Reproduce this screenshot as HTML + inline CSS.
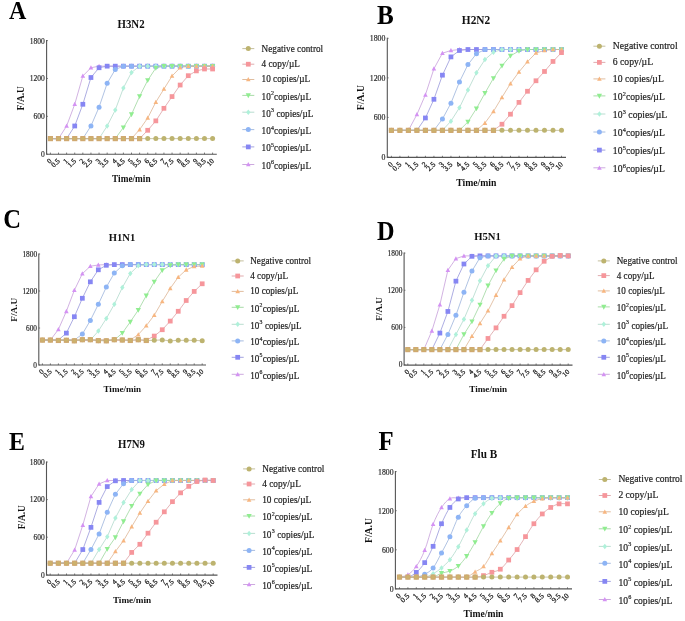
<!DOCTYPE html>
<html><head><meta charset="utf-8"><style>
html,body{margin:0;padding:0;background:#fff;}
svg{display:block;will-change:transform;}
text{font-family:"Liberation Serif",serif;fill:#222;}
.let{font-weight:bold;fill:#000;}
.ttl{font-weight:bold;fill:#111;}
.yt{fill:#2a2a2a;stroke:#2a2a2a;stroke-width:0.18px;}
.xt{fill:#222;stroke:#222;stroke-width:0.25px;}
.yl{font-weight:bold;fill:#111;}
.xl{font-weight:bold;fill:#111;}
.lg{fill:#222;stroke:#222;stroke-width:0.18px;}
.sup{font-size:64%;}
.axis{fill:none;stroke:#555;stroke-width:1.1;}
.tick{fill:none;stroke:#555;stroke-width:0.8;}
</style></head>
<body><svg width="685" height="621" viewBox="0 0 685 621">
<rect width="685" height="621" fill="#fff"/>
<text transform="translate(9.00,19.00) scale(1,1.09)" class="let" style="font-size:24.00px">A</text>
<text transform="translate(131.00,27.80) scale(1,1.07)" class="ttl" style="font-size:10.85px" text-anchor="middle">H3N2</text>
<path d="M46.6,40.1V154.2H216.8" class="axis"/>
<path d="M46.6,154.20h1.3" class="tick"/>
<text transform="translate(44.80,157.10)" class="yt" style="font-size:7.50px" text-anchor="end">0</text>
<path d="M46.6,116.33h1.3" class="tick"/>
<text transform="translate(44.80,119.23)" class="yt" style="font-size:7.50px" text-anchor="end">600</text>
<path d="M46.6,78.47h1.3" class="tick"/>
<text transform="translate(44.80,81.37)" class="yt" style="font-size:7.50px" text-anchor="end">1200</text>
<path d="M46.6,40.60h1.3" class="tick"/>
<text transform="translate(44.80,43.50)" class="yt" style="font-size:7.50px" text-anchor="end">1800</text>
<path d="M50.40,154.2v-1.6" class="tick"/>
<text transform="translate(52.30,161.40) rotate(-45)" class="xt" style="font-size:7.20px" text-anchor="end">0</text>
<path d="M58.51,154.2v-1.6" class="tick"/>
<text transform="translate(60.41,161.40) rotate(-45)" class="xt" style="font-size:7.20px" text-anchor="end">0.5</text>
<path d="M66.62,154.2v-1.6" class="tick"/>
<text transform="translate(68.52,161.40) rotate(-45)" class="xt" style="font-size:7.20px" text-anchor="end">1</text>
<path d="M74.73,154.2v-1.6" class="tick"/>
<text transform="translate(76.63,161.40) rotate(-45)" class="xt" style="font-size:7.20px" text-anchor="end">1.5</text>
<path d="M82.84,154.2v-1.6" class="tick"/>
<text transform="translate(84.74,161.40) rotate(-45)" class="xt" style="font-size:7.20px" text-anchor="end">2</text>
<path d="M90.95,154.2v-1.6" class="tick"/>
<text transform="translate(92.85,161.40) rotate(-45)" class="xt" style="font-size:7.20px" text-anchor="end">2.5</text>
<path d="M99.06,154.2v-1.6" class="tick"/>
<text transform="translate(100.96,161.40) rotate(-45)" class="xt" style="font-size:7.20px" text-anchor="end">3</text>
<path d="M107.17,154.2v-1.6" class="tick"/>
<text transform="translate(109.07,161.40) rotate(-45)" class="xt" style="font-size:7.20px" text-anchor="end">3.5</text>
<path d="M115.28,154.2v-1.6" class="tick"/>
<text transform="translate(117.18,161.40) rotate(-45)" class="xt" style="font-size:7.20px" text-anchor="end">4</text>
<path d="M123.39,154.2v-1.6" class="tick"/>
<text transform="translate(125.29,161.40) rotate(-45)" class="xt" style="font-size:7.20px" text-anchor="end">4.5</text>
<path d="M131.50,154.2v-1.6" class="tick"/>
<text transform="translate(133.40,161.40) rotate(-45)" class="xt" style="font-size:7.20px" text-anchor="end">5</text>
<path d="M139.61,154.2v-1.6" class="tick"/>
<text transform="translate(141.51,161.40) rotate(-45)" class="xt" style="font-size:7.20px" text-anchor="end">5.5</text>
<path d="M147.72,154.2v-1.6" class="tick"/>
<text transform="translate(149.62,161.40) rotate(-45)" class="xt" style="font-size:7.20px" text-anchor="end">6</text>
<path d="M155.83,154.2v-1.6" class="tick"/>
<text transform="translate(157.73,161.40) rotate(-45)" class="xt" style="font-size:7.20px" text-anchor="end">6.5</text>
<path d="M163.94,154.2v-1.6" class="tick"/>
<text transform="translate(165.84,161.40) rotate(-45)" class="xt" style="font-size:7.20px" text-anchor="end">7</text>
<path d="M172.05,154.2v-1.6" class="tick"/>
<text transform="translate(173.95,161.40) rotate(-45)" class="xt" style="font-size:7.20px" text-anchor="end">7.5</text>
<path d="M180.16,154.2v-1.6" class="tick"/>
<text transform="translate(182.06,161.40) rotate(-45)" class="xt" style="font-size:7.20px" text-anchor="end">8</text>
<path d="M188.27,154.2v-1.6" class="tick"/>
<text transform="translate(190.17,161.40) rotate(-45)" class="xt" style="font-size:7.20px" text-anchor="end">8.5</text>
<path d="M196.38,154.2v-1.6" class="tick"/>
<text transform="translate(198.28,161.40) rotate(-45)" class="xt" style="font-size:7.20px" text-anchor="end">9</text>
<path d="M204.49,154.2v-1.6" class="tick"/>
<text transform="translate(206.39,161.40) rotate(-45)" class="xt" style="font-size:7.20px" text-anchor="end">9.5</text>
<path d="M212.60,154.2v-1.6" class="tick"/>
<text transform="translate(214.50,161.40) rotate(-45)" class="xt" style="font-size:7.20px" text-anchor="end">10</text>
<text transform="translate(23.80,98.30) rotate(-90)" class="yl" style="font-size:9.40px" text-anchor="middle">F/A.U</text>
<text transform="translate(131.30,181.70)" class="xl" style="font-size:9.30px" text-anchor="middle">Time/min</text>
<path d="M50.40,138.61L58.51,138.61L66.62,125.99L74.73,104.28L82.84,76.01L90.95,67.74L99.06,66.16L107.17,66.16L115.28,66.16L123.39,66.16L131.50,66.16L139.61,66.16L147.72,66.16L155.83,66.16L163.94,66.16L172.05,66.16L180.16,66.16L188.27,66.16L196.38,66.16L204.49,66.16L212.60,66.16" fill="none" stroke="#c79fdb" stroke-width="0.8"/>
<path d="M50.40,138.61L58.51,138.61L66.62,138.61L74.73,125.99L82.84,104.28L90.95,77.52L99.06,67.74L107.17,66.16L115.28,66.16L123.39,66.16L131.50,66.16L139.61,66.16L147.72,66.16L155.83,66.16L163.94,66.16L172.05,66.16L180.16,66.16L188.27,66.16L196.38,66.16L204.49,66.16L212.60,66.16" fill="none" stroke="#9898db" stroke-width="0.8"/>
<path d="M50.40,138.61L58.51,138.61L66.62,138.61L74.73,138.61L82.84,138.61L90.95,125.99L99.06,107.18L107.17,83.33L115.28,69.50L123.39,66.16L131.50,66.16L139.61,66.16L147.72,66.16L155.83,66.16L163.94,66.16L172.05,66.16L180.16,66.16L188.27,66.16L196.38,66.16L204.49,66.16L212.60,66.16" fill="none" stroke="#9cb4dc" stroke-width="0.8"/>
<path d="M50.40,138.61L58.51,138.61L66.62,138.61L74.73,138.61L82.84,138.61L90.95,138.61L99.06,138.61L107.17,125.99L115.28,110.09L123.39,88.00L131.50,72.41L139.61,66.16L147.72,66.16L155.83,66.16L163.94,66.16L172.05,66.16L180.16,66.16L188.27,66.16L196.38,66.16L204.49,66.16L212.60,66.16" fill="none" stroke="#b1d9cb" stroke-width="0.8"/>
<path d="M50.40,138.61L58.51,138.61L66.62,138.61L74.73,138.61L82.84,138.61L90.95,138.61L99.06,138.61L107.17,138.61L115.28,138.61L123.39,127.50L131.50,114.38L139.61,96.33L147.72,80.30L155.83,67.99L163.94,66.16L172.05,66.16L180.16,66.16L188.27,66.16L196.38,66.16L204.49,66.16L212.60,66.16" fill="none" stroke="#9ed79e" stroke-width="0.8"/>
<path d="M50.40,138.61L58.51,138.61L66.62,138.61L74.73,138.61L82.84,138.61L90.95,138.61L99.06,138.61L107.17,138.61L115.28,138.61L123.39,138.61L131.50,138.61L139.61,129.59L147.72,117.97L155.83,102.07L163.94,89.01L172.05,76.01L180.16,67.67L188.27,66.16L196.38,66.16L204.49,66.16L212.60,66.16" fill="none" stroke="#ddb594" stroke-width="0.8"/>
<path d="M50.40,138.61L58.51,138.61L66.62,138.61L74.73,138.61L82.84,138.61L90.95,138.61L99.06,138.61L107.17,138.61L115.28,138.61L123.39,138.61L131.50,138.61L139.61,138.61L147.72,130.28L155.83,120.88L163.94,108.32L172.05,96.58L180.16,85.03L188.27,75.69L196.38,70.89L204.49,69.00L212.60,69.00" fill="none" stroke="#dca1a5" stroke-width="0.8"/>
<path d="M50.40,138.61L58.51,138.61L66.62,138.61L74.73,138.61L82.84,138.61L90.95,138.61L99.06,138.61L107.17,138.61L115.28,138.61L123.39,138.61L131.50,138.61L139.61,138.61L147.72,138.61L155.83,138.61L163.94,138.61L172.05,138.61L180.16,138.61L188.27,138.61L196.38,138.61L204.49,138.61L212.60,138.61" fill="none" stroke="#bdb893" stroke-width="0.8"/>
<path d="M66.62,123.57L68.92,127.83L64.32,127.83Z" fill="#d492f3"/>
<path d="M74.73,101.86L77.03,106.12L72.43,106.12Z" fill="#d492f3"/>
<path d="M82.84,73.59L85.14,77.85L80.54,77.85Z" fill="#d492f3"/>
<path d="M90.95,65.32L93.25,69.58L88.65,69.58Z" fill="#d492f3"/>
<path d="M99.06,63.74L101.36,68.00L96.76,68.00Z" fill="#d492f3"/>
<path d="M107.17,63.74L109.47,68.00L104.87,68.00Z" fill="#d492f3"/>
<path d="M115.28,63.74L117.58,68.00L112.98,68.00Z" fill="#d492f3"/>
<path d="M123.39,63.74L125.69,68.00L121.09,68.00Z" fill="#d492f3"/>
<path d="M131.50,63.74L133.80,68.00L129.20,68.00Z" fill="#d492f3"/>
<path d="M139.61,63.74L141.91,68.00L137.31,68.00Z" fill="#d492f3"/>
<path d="M147.72,63.74L150.02,68.00L145.42,68.00Z" fill="#d492f3"/>
<path d="M155.83,63.74L158.13,68.00L153.53,68.00Z" fill="#d492f3"/>
<path d="M163.94,63.74L166.24,68.00L161.64,68.00Z" fill="#d492f3"/>
<path d="M172.05,63.74L174.35,68.00L169.75,68.00Z" fill="#d492f3"/>
<path d="M180.16,63.74L182.46,68.00L177.86,68.00Z" fill="#d492f3"/>
<path d="M188.27,63.74L190.57,68.00L185.97,68.00Z" fill="#d492f3"/>
<path d="M196.38,63.74L198.68,68.00L194.08,68.00Z" fill="#d492f3"/>
<path d="M204.49,63.74L206.79,68.00L202.19,68.00Z" fill="#d492f3"/>
<path d="M212.60,63.74L214.90,68.00L210.30,68.00Z" fill="#d492f3"/>
<rect x="72.35" y="123.61" width="4.75" height="4.75" fill="#8686f3"/>
<rect x="80.47" y="101.90" width="4.75" height="4.75" fill="#8686f3"/>
<rect x="88.57" y="75.14" width="4.75" height="4.75" fill="#8686f3"/>
<rect x="96.69" y="65.36" width="4.75" height="4.75" fill="#8686f3"/>
<rect x="104.79" y="63.78" width="4.75" height="4.75" fill="#8686f3"/>
<rect x="112.91" y="63.78" width="4.75" height="4.75" fill="#8686f3"/>
<rect x="121.01" y="63.78" width="4.75" height="4.75" fill="#8686f3"/>
<rect x="129.12" y="63.78" width="4.75" height="4.75" fill="#8686f3"/>
<rect x="137.23" y="63.78" width="4.75" height="4.75" fill="#8686f3"/>
<rect x="145.34" y="63.78" width="4.75" height="4.75" fill="#8686f3"/>
<rect x="153.45" y="63.78" width="4.75" height="4.75" fill="#8686f3"/>
<rect x="161.56" y="63.78" width="4.75" height="4.75" fill="#8686f3"/>
<rect x="169.67" y="63.78" width="4.75" height="4.75" fill="#8686f3"/>
<rect x="177.78" y="63.78" width="4.75" height="4.75" fill="#8686f3"/>
<rect x="185.90" y="63.78" width="4.75" height="4.75" fill="#8686f3"/>
<rect x="194.00" y="63.78" width="4.75" height="4.75" fill="#8686f3"/>
<rect x="202.11" y="63.78" width="4.75" height="4.75" fill="#8686f3"/>
<rect x="210.22" y="63.78" width="4.75" height="4.75" fill="#8686f3"/>
<circle cx="90.95" cy="125.99" r="2.50" fill="#8db4f5"/>
<circle cx="99.06" cy="107.18" r="2.50" fill="#8db4f5"/>
<circle cx="107.17" cy="83.33" r="2.50" fill="#8db4f5"/>
<circle cx="115.28" cy="69.50" r="2.50" fill="#8db4f5"/>
<circle cx="123.39" cy="66.16" r="2.50" fill="#8db4f5"/>
<circle cx="131.50" cy="66.16" r="2.50" fill="#8db4f5"/>
<circle cx="139.61" cy="66.16" r="2.50" fill="#8db4f5"/>
<circle cx="147.72" cy="66.16" r="2.50" fill="#8db4f5"/>
<circle cx="155.83" cy="66.16" r="2.50" fill="#8db4f5"/>
<circle cx="163.94" cy="66.16" r="2.50" fill="#8db4f5"/>
<circle cx="172.05" cy="66.16" r="2.50" fill="#8db4f5"/>
<circle cx="180.16" cy="66.16" r="2.50" fill="#8db4f5"/>
<circle cx="188.27" cy="66.16" r="2.50" fill="#8db4f5"/>
<circle cx="196.38" cy="66.16" r="2.50" fill="#8db4f5"/>
<circle cx="204.49" cy="66.16" r="2.50" fill="#8db4f5"/>
<circle cx="212.60" cy="66.16" r="2.50" fill="#8db4f5"/>
<path d="M107.17,123.24L109.37,125.99L107.17,128.74L104.97,125.99Z" fill="#aff1da"/>
<path d="M115.28,107.34L117.48,110.09L115.28,112.84L113.08,110.09Z" fill="#aff1da"/>
<path d="M123.39,85.25L125.59,88.00L123.39,90.75L121.19,88.00Z" fill="#aff1da"/>
<path d="M131.50,69.66L133.70,72.41L131.50,75.16L129.30,72.41Z" fill="#aff1da"/>
<path d="M139.61,63.41L141.81,66.16L139.61,68.91L137.41,66.16Z" fill="#aff1da"/>
<path d="M147.72,63.41L149.92,66.16L147.72,68.91L145.52,66.16Z" fill="#aff1da"/>
<path d="M155.83,63.41L158.03,66.16L155.83,68.91L153.63,66.16Z" fill="#aff1da"/>
<path d="M163.94,63.41L166.14,66.16L163.94,68.91L161.74,66.16Z" fill="#aff1da"/>
<path d="M172.05,63.41L174.25,66.16L172.05,68.91L169.85,66.16Z" fill="#aff1da"/>
<path d="M180.16,63.41L182.36,66.16L180.16,68.91L177.96,66.16Z" fill="#aff1da"/>
<path d="M188.27,63.41L190.47,66.16L188.27,68.91L186.07,66.16Z" fill="#aff1da"/>
<path d="M196.38,63.41L198.58,66.16L196.38,68.91L194.18,66.16Z" fill="#aff1da"/>
<path d="M204.49,63.41L206.69,66.16L204.49,68.91L202.29,66.16Z" fill="#aff1da"/>
<path d="M212.60,63.41L214.80,66.16L212.60,68.91L210.40,66.16Z" fill="#aff1da"/>
<path d="M123.39,130.26L126.01,125.40L120.76,125.40Z" fill="#90ed90"/>
<path d="M131.50,117.13L134.12,112.28L128.88,112.28Z" fill="#90ed90"/>
<path d="M139.61,99.08L142.23,94.23L136.98,94.23Z" fill="#90ed90"/>
<path d="M147.72,83.05L150.34,78.20L145.09,78.20Z" fill="#90ed90"/>
<path d="M155.83,70.75L158.45,65.89L153.20,65.89Z" fill="#90ed90"/>
<path d="M163.94,68.92L166.56,64.06L161.31,64.06Z" fill="#90ed90"/>
<path d="M172.05,68.92L174.67,64.06L169.42,64.06Z" fill="#90ed90"/>
<path d="M180.16,68.92L182.78,64.06L177.53,64.06Z" fill="#90ed90"/>
<path d="M188.27,68.92L190.90,64.06L185.65,64.06Z" fill="#90ed90"/>
<path d="M196.38,68.92L199.00,64.06L193.75,64.06Z" fill="#90ed90"/>
<path d="M204.49,68.92L207.11,64.06L201.86,64.06Z" fill="#90ed90"/>
<path d="M212.60,68.92L215.22,64.06L209.97,64.06Z" fill="#90ed90"/>
<path d="M139.61,127.17L141.91,131.43L137.31,131.43Z" fill="#f7b680"/>
<path d="M147.72,115.56L150.02,119.81L145.42,119.81Z" fill="#f7b680"/>
<path d="M155.83,99.66L158.13,103.91L153.53,103.91Z" fill="#f7b680"/>
<path d="M163.94,86.59L166.24,90.85L161.64,90.85Z" fill="#f7b680"/>
<path d="M172.05,73.59L174.35,77.85L169.75,77.85Z" fill="#f7b680"/>
<path d="M180.16,65.26L182.46,69.51L177.86,69.51Z" fill="#f7b680"/>
<path d="M188.27,63.74L190.57,68.00L185.97,68.00Z" fill="#f7b680"/>
<path d="M196.38,63.74L198.68,68.00L194.08,68.00Z" fill="#f7b680"/>
<path d="M204.49,63.74L206.79,68.00L202.19,68.00Z" fill="#f7b680"/>
<path d="M212.60,63.74L214.90,68.00L210.30,68.00Z" fill="#f7b680"/>
<rect x="145.34" y="127.91" width="4.75" height="4.75" fill="#f6969b"/>
<rect x="153.45" y="118.50" width="4.75" height="4.75" fill="#f6969b"/>
<rect x="161.56" y="105.94" width="4.75" height="4.75" fill="#f6969b"/>
<rect x="169.67" y="94.20" width="4.75" height="4.75" fill="#f6969b"/>
<rect x="177.78" y="82.66" width="4.75" height="4.75" fill="#f6969b"/>
<rect x="185.90" y="73.31" width="4.75" height="4.75" fill="#f6969b"/>
<rect x="194.00" y="68.52" width="4.75" height="4.75" fill="#f6969b"/>
<rect x="202.11" y="66.62" width="4.75" height="4.75" fill="#f6969b"/>
<rect x="210.22" y="66.62" width="4.75" height="4.75" fill="#f6969b"/>
<circle cx="50.40" cy="138.61" r="2.50" fill="#bdb36f"/>
<circle cx="58.51" cy="138.61" r="2.50" fill="#bdb36f"/>
<circle cx="66.62" cy="138.61" r="2.50" fill="#bdb36f"/>
<circle cx="74.73" cy="138.61" r="2.50" fill="#bdb36f"/>
<circle cx="82.84" cy="138.61" r="2.50" fill="#bdb36f"/>
<circle cx="90.95" cy="138.61" r="2.50" fill="#bdb36f"/>
<circle cx="99.06" cy="138.61" r="2.50" fill="#bdb36f"/>
<circle cx="107.17" cy="138.61" r="2.50" fill="#bdb36f"/>
<circle cx="115.28" cy="138.61" r="2.50" fill="#bdb36f"/>
<circle cx="123.39" cy="138.61" r="2.50" fill="#bdb36f"/>
<circle cx="131.50" cy="138.61" r="2.50" fill="#bdb36f"/>
<circle cx="139.61" cy="138.61" r="2.50" fill="#bdb36f"/>
<circle cx="147.72" cy="138.61" r="2.50" fill="#bdb36f"/>
<circle cx="155.83" cy="138.61" r="2.50" fill="#bdb36f"/>
<circle cx="163.94" cy="138.61" r="2.50" fill="#bdb36f"/>
<circle cx="172.05" cy="138.61" r="2.50" fill="#bdb36f"/>
<circle cx="180.16" cy="138.61" r="2.50" fill="#bdb36f"/>
<circle cx="188.27" cy="138.61" r="2.50" fill="#bdb36f"/>
<circle cx="196.38" cy="138.61" r="2.50" fill="#bdb36f"/>
<circle cx="204.49" cy="138.61" r="2.50" fill="#bdb36f"/>
<circle cx="212.60" cy="138.61" r="2.50" fill="#bdb36f"/>
<rect x="47.80" y="136.01" width="5.2" height="5.2" fill="#d0a870"/>
<circle cx="50.40" cy="138.61" r="1.7" fill="#cbb36c"/>
<rect x="55.91" y="136.01" width="5.2" height="5.2" fill="#d0a870"/>
<circle cx="58.51" cy="138.61" r="1.7" fill="#cbb36c"/>
<rect x="64.02" y="136.01" width="5.2" height="5.2" fill="#d0a870"/>
<circle cx="66.62" cy="138.61" r="1.7" fill="#cbb36c"/>
<rect x="72.13" y="136.01" width="5.2" height="5.2" fill="#d0a870"/>
<circle cx="74.73" cy="138.61" r="1.7" fill="#cbb36c"/>
<rect x="80.24" y="136.01" width="5.2" height="5.2" fill="#d0a870"/>
<circle cx="82.84" cy="138.61" r="1.7" fill="#cbb36c"/>
<rect x="88.35" y="136.01" width="5.2" height="5.2" fill="#d0a870"/>
<circle cx="90.95" cy="138.61" r="1.7" fill="#cbb36c"/>
<rect x="96.46" y="136.01" width="5.2" height="5.2" fill="#d0a870"/>
<circle cx="99.06" cy="138.61" r="1.7" fill="#cbb36c"/>
<rect x="104.57" y="136.01" width="5.2" height="5.2" fill="#d0a870"/>
<circle cx="107.17" cy="138.61" r="1.7" fill="#cbb36c"/>
<rect x="112.68" y="136.01" width="5.2" height="5.2" fill="#d0a870"/>
<circle cx="115.28" cy="138.61" r="1.7" fill="#cbb36c"/>
<rect x="120.79" y="136.01" width="5.2" height="5.2" fill="#d0a870"/>
<circle cx="123.39" cy="138.61" r="1.7" fill="#cbb36c"/>
<rect x="128.90" y="136.01" width="5.2" height="5.2" fill="#d0a870"/>
<circle cx="131.50" cy="138.61" r="1.7" fill="#cbb36c"/>
<rect x="137.01" y="136.01" width="5.2" height="5.2" fill="#d0a870"/>
<circle cx="139.61" cy="138.61" r="1.7" fill="#cbb36c"/>
<path d="M242.30,48.60h12" stroke="#bdb893" stroke-width="0.9"/>
<circle cx="248.30" cy="48.60" r="2.50" fill="#bdb36f"/>
<text transform="translate(261.60,51.50) scale(1,1.15)" class="lg" style="font-size:9.20px">Negative control</text>
<path d="M242.30,64.20h12" stroke="#dca1a5" stroke-width="0.9"/>
<rect x="245.93" y="61.83" width="4.75" height="4.75" fill="#f6969b"/>
<text transform="translate(261.60,67.10) scale(1,1.15)" class="lg" style="font-size:9.20px">4 copy/µL</text>
<path d="M242.30,79.50h12" stroke="#ddb594" stroke-width="0.9"/>
<path d="M248.30,77.08L250.60,81.34L246.00,81.34Z" fill="#f7b680"/>
<text transform="translate(261.60,82.40) scale(1,1.15)" class="lg" style="font-size:9.20px">10 copies/µL</text>
<path d="M242.30,95.40h12" stroke="#9ed79e" stroke-width="0.9"/>
<path d="M248.30,98.16L250.93,93.30L245.68,93.30Z" fill="#90ed90"/>
<text transform="translate(261.60,99.70) scale(1,1.15)" class="lg" style="font-size:9.20px">10<tspan class="sup" dy="-3.8" dx="0.15">2</tspan><tspan dy="3.8" dx="0.2">copies/µL</tspan></text>
<path d="M242.30,112.20h12" stroke="#b1d9cb" stroke-width="0.9"/>
<path d="M248.30,109.45L250.50,112.20L248.30,114.95L246.10,112.20Z" fill="#aff1da"/>
<text transform="translate(261.60,116.50) scale(1,1.15)" class="lg" style="font-size:9.20px">10<tspan class="sup" dy="-3.8" dx="0.15">3</tspan><tspan dy="3.8" dx="0.2"> copies/µL</tspan></text>
<path d="M242.30,129.60h12" stroke="#9cb4dc" stroke-width="0.9"/>
<circle cx="248.30" cy="129.60" r="2.50" fill="#8db4f5"/>
<text transform="translate(261.60,133.90) scale(1,1.15)" class="lg" style="font-size:9.20px">10<tspan class="sup" dy="-3.8" dx="0.15">4</tspan><tspan dy="3.8" dx="0.2">copies/µL</tspan></text>
<path d="M242.30,146.90h12" stroke="#9898db" stroke-width="0.9"/>
<rect x="245.93" y="144.53" width="4.75" height="4.75" fill="#8686f3"/>
<text transform="translate(261.60,151.20) scale(1,1.15)" class="lg" style="font-size:9.20px">10<tspan class="sup" dy="-3.8" dx="0.15">5</tspan><tspan dy="3.8" dx="0.2">copies/µL</tspan></text>
<path d="M242.30,164.50h12" stroke="#c79fdb" stroke-width="0.9"/>
<path d="M248.30,162.09L250.60,166.34L246.00,166.34Z" fill="#d492f3"/>
<text transform="translate(261.60,168.80) scale(1,1.15)" class="lg" style="font-size:9.20px">10<tspan class="sup" dy="-3.8" dx="0.15">6</tspan><tspan dy="3.8" dx="0.2">copies/µL</tspan></text>
<text transform="translate(377.00,24.00) scale(1,1.09)" class="let" style="font-size:25.08px">B</text>
<text transform="translate(476.00,24.20) scale(1,1.07)" class="ttl" style="font-size:11.34px" text-anchor="middle">H2N2</text>
<path d="M387.3,37.8V157.4H566" class="axis"/>
<path d="M387.3,157.00h1.3" class="tick"/>
<text transform="translate(385.42,160.03)" class="yt" style="font-size:7.84px" text-anchor="end">0</text>
<path d="M387.3,117.43h1.3" class="tick"/>
<text transform="translate(385.42,120.46)" class="yt" style="font-size:7.84px" text-anchor="end">600</text>
<path d="M387.3,77.87h1.3" class="tick"/>
<text transform="translate(385.42,80.90)" class="yt" style="font-size:7.84px" text-anchor="end">1200</text>
<path d="M387.3,38.30h1.3" class="tick"/>
<text transform="translate(385.42,41.33)" class="yt" style="font-size:7.84px" text-anchor="end">1800</text>
<path d="M391.40,157.4v-1.6" class="tick"/>
<text transform="translate(393.39,164.92) rotate(-45)" class="xt" style="font-size:7.52px" text-anchor="end">0</text>
<path d="M399.90,157.4v-1.6" class="tick"/>
<text transform="translate(401.89,164.92) rotate(-45)" class="xt" style="font-size:7.52px" text-anchor="end">0.5</text>
<path d="M408.41,157.4v-1.6" class="tick"/>
<text transform="translate(410.40,164.92) rotate(-45)" class="xt" style="font-size:7.52px" text-anchor="end">1</text>
<path d="M416.91,157.4v-1.6" class="tick"/>
<text transform="translate(418.90,164.92) rotate(-45)" class="xt" style="font-size:7.52px" text-anchor="end">1.5</text>
<path d="M425.42,157.4v-1.6" class="tick"/>
<text transform="translate(427.41,164.92) rotate(-45)" class="xt" style="font-size:7.52px" text-anchor="end">2</text>
<path d="M433.92,157.4v-1.6" class="tick"/>
<text transform="translate(435.91,164.92) rotate(-45)" class="xt" style="font-size:7.52px" text-anchor="end">2.5</text>
<path d="M442.43,157.4v-1.6" class="tick"/>
<text transform="translate(444.42,164.92) rotate(-45)" class="xt" style="font-size:7.52px" text-anchor="end">3</text>
<path d="M450.94,157.4v-1.6" class="tick"/>
<text transform="translate(452.92,164.92) rotate(-45)" class="xt" style="font-size:7.52px" text-anchor="end">3.5</text>
<path d="M459.44,157.4v-1.6" class="tick"/>
<text transform="translate(461.43,164.92) rotate(-45)" class="xt" style="font-size:7.52px" text-anchor="end">4</text>
<path d="M467.94,157.4v-1.6" class="tick"/>
<text transform="translate(469.93,164.92) rotate(-45)" class="xt" style="font-size:7.52px" text-anchor="end">4.5</text>
<path d="M476.45,157.4v-1.6" class="tick"/>
<text transform="translate(478.44,164.92) rotate(-45)" class="xt" style="font-size:7.52px" text-anchor="end">5</text>
<path d="M484.95,157.4v-1.6" class="tick"/>
<text transform="translate(486.94,164.92) rotate(-45)" class="xt" style="font-size:7.52px" text-anchor="end">5.5</text>
<path d="M493.46,157.4v-1.6" class="tick"/>
<text transform="translate(495.45,164.92) rotate(-45)" class="xt" style="font-size:7.52px" text-anchor="end">6</text>
<path d="M501.96,157.4v-1.6" class="tick"/>
<text transform="translate(503.95,164.92) rotate(-45)" class="xt" style="font-size:7.52px" text-anchor="end">6.5</text>
<path d="M510.47,157.4v-1.6" class="tick"/>
<text transform="translate(512.46,164.92) rotate(-45)" class="xt" style="font-size:7.52px" text-anchor="end">7</text>
<path d="M518.98,157.4v-1.6" class="tick"/>
<text transform="translate(520.96,164.92) rotate(-45)" class="xt" style="font-size:7.52px" text-anchor="end">7.5</text>
<path d="M527.48,157.4v-1.6" class="tick"/>
<text transform="translate(529.47,164.92) rotate(-45)" class="xt" style="font-size:7.52px" text-anchor="end">8</text>
<path d="M535.99,157.4v-1.6" class="tick"/>
<text transform="translate(537.97,164.92) rotate(-45)" class="xt" style="font-size:7.52px" text-anchor="end">8.5</text>
<path d="M544.49,157.4v-1.6" class="tick"/>
<text transform="translate(546.48,164.92) rotate(-45)" class="xt" style="font-size:7.52px" text-anchor="end">9</text>
<path d="M553.00,157.4v-1.6" class="tick"/>
<text transform="translate(554.98,164.92) rotate(-45)" class="xt" style="font-size:7.52px" text-anchor="end">9.5</text>
<path d="M561.50,157.4v-1.6" class="tick"/>
<text transform="translate(563.49,164.92) rotate(-45)" class="xt" style="font-size:7.52px" text-anchor="end">10</text>
<text transform="translate(364.10,97.60) rotate(-90)" class="yl" style="font-size:9.82px" text-anchor="middle">F/A.U</text>
<text transform="translate(476.30,185.80)" class="xl" style="font-size:9.72px" text-anchor="middle">Time/min</text>
<path d="M391.40,130.36L399.90,130.36L408.41,130.36L416.91,114.53L425.42,94.81L433.92,68.77L442.43,53.20L450.94,50.50L459.44,49.51L467.94,49.51L476.45,49.51L484.95,49.51L493.46,49.51L501.96,49.51L510.47,49.51L518.98,49.51L527.48,49.51L535.99,49.51L544.49,49.51L553.00,49.51L561.50,49.51" fill="none" stroke="#c79fdb" stroke-width="0.8"/>
<path d="M391.40,130.36L399.90,130.36L408.41,130.36L416.91,130.36L425.42,117.96L433.92,99.30L442.43,75.16L450.94,56.90L459.44,50.50L467.94,49.51L476.45,49.51L484.95,49.51L493.46,49.51L501.96,49.51L510.47,49.51L518.98,49.51L527.48,49.51L535.99,49.51L544.49,49.51L553.00,49.51L561.50,49.51" fill="none" stroke="#9898db" stroke-width="0.8"/>
<path d="M391.40,130.36L399.90,130.36L408.41,130.36L416.91,130.36L425.42,130.36L433.92,130.36L442.43,119.02L450.94,103.19L459.44,81.96L467.94,64.61L476.45,53.73L484.95,49.51L493.46,49.51L501.96,49.51L510.47,49.51L518.98,49.51L527.48,49.51L535.99,49.51L544.49,49.51L553.00,49.51L561.50,49.51" fill="none" stroke="#9cb4dc" stroke-width="0.8"/>
<path d="M391.40,130.36L399.90,130.36L408.41,130.36L416.91,130.36L425.42,130.36L433.92,130.36L442.43,130.36L450.94,121.13L459.44,107.74L467.94,90.00L476.45,72.72L484.95,59.60L493.46,52.15L501.96,49.51L510.47,49.51L518.98,49.51L527.48,49.51L535.99,49.51L544.49,49.51L553.00,49.51L561.50,49.51" fill="none" stroke="#b1d9cb" stroke-width="0.8"/>
<path d="M391.40,130.36L399.90,130.36L408.41,130.36L416.91,130.36L425.42,130.36L433.92,130.36L442.43,130.36L450.94,130.36L459.44,130.36L467.94,121.92L476.45,108.53L484.95,93.17L493.46,78.26L501.96,65.80L510.47,55.84L518.98,51.03L527.48,49.51L535.99,49.51L544.49,49.51L553.00,49.51L561.50,49.51" fill="none" stroke="#9ed79e" stroke-width="0.8"/>
<path d="M391.40,130.36L399.90,130.36L408.41,130.36L416.91,130.36L425.42,130.36L433.92,130.36L442.43,130.36L450.94,130.36L459.44,130.36L467.94,130.36L476.45,130.36L484.95,123.04L493.46,111.43L501.96,97.32L510.47,83.60L518.98,71.93L527.48,61.71L535.99,52.94L544.49,50.50L553.00,49.51L561.50,49.51" fill="none" stroke="#ddb594" stroke-width="0.8"/>
<path d="M391.40,130.36L399.90,130.36L408.41,130.36L416.91,130.36L425.42,130.36L433.92,130.36L442.43,130.36L450.94,130.36L459.44,130.36L467.94,130.36L476.45,130.36L484.95,130.36L493.46,130.36L501.96,124.23L510.47,114.20L518.98,102.40L527.48,91.25L535.99,80.77L544.49,71.47L553.00,61.45L561.50,52.61" fill="none" stroke="#dca1a5" stroke-width="0.8"/>
<path d="M391.40,130.36L399.90,130.36L408.41,130.36L416.91,130.36L425.42,130.36L433.92,130.36L442.43,130.36L450.94,130.36L459.44,130.36L467.94,130.36L476.45,130.36L484.95,130.36L493.46,130.36L501.96,130.36L510.47,130.36L518.98,130.36L527.48,130.36L535.99,130.36L544.49,130.36L553.00,130.36L561.50,130.36" fill="none" stroke="#bdb893" stroke-width="0.8"/>
<path d="M416.91,112.12L419.21,116.37L414.61,116.37Z" fill="#d492f3"/>
<path d="M425.42,92.40L427.72,96.65L423.12,96.65Z" fill="#d492f3"/>
<path d="M433.92,66.35L436.22,70.61L431.62,70.61Z" fill="#d492f3"/>
<path d="M442.43,50.79L444.73,55.04L440.13,55.04Z" fill="#d492f3"/>
<path d="M450.94,48.08L453.24,52.34L448.63,52.34Z" fill="#d492f3"/>
<path d="M459.44,47.10L461.74,51.35L457.14,51.35Z" fill="#d492f3"/>
<path d="M467.94,47.10L470.25,51.35L465.64,51.35Z" fill="#d492f3"/>
<path d="M476.45,47.10L478.75,51.35L474.15,51.35Z" fill="#d492f3"/>
<path d="M484.95,47.10L487.25,51.35L482.65,51.35Z" fill="#d492f3"/>
<path d="M493.46,47.10L495.76,51.35L491.16,51.35Z" fill="#d492f3"/>
<path d="M501.96,47.10L504.26,51.35L499.66,51.35Z" fill="#d492f3"/>
<path d="M510.47,47.10L512.77,51.35L508.17,51.35Z" fill="#d492f3"/>
<path d="M518.98,47.10L521.27,51.35L516.68,51.35Z" fill="#d492f3"/>
<path d="M527.48,47.10L529.78,51.35L525.18,51.35Z" fill="#d492f3"/>
<path d="M535.99,47.10L538.28,51.35L533.69,51.35Z" fill="#d492f3"/>
<path d="M544.49,47.10L546.79,51.35L542.19,51.35Z" fill="#d492f3"/>
<path d="M553.00,47.10L555.29,51.35L550.70,51.35Z" fill="#d492f3"/>
<path d="M561.50,47.10L563.80,51.35L559.20,51.35Z" fill="#d492f3"/>
<rect x="423.04" y="115.59" width="4.75" height="4.75" fill="#8686f3"/>
<rect x="431.55" y="96.92" width="4.75" height="4.75" fill="#8686f3"/>
<rect x="440.05" y="72.79" width="4.75" height="4.75" fill="#8686f3"/>
<rect x="448.56" y="54.52" width="4.75" height="4.75" fill="#8686f3"/>
<rect x="457.06" y="48.12" width="4.75" height="4.75" fill="#8686f3"/>
<rect x="465.57" y="47.14" width="4.75" height="4.75" fill="#8686f3"/>
<rect x="474.07" y="47.14" width="4.75" height="4.75" fill="#8686f3"/>
<rect x="482.58" y="47.14" width="4.75" height="4.75" fill="#8686f3"/>
<rect x="491.08" y="47.14" width="4.75" height="4.75" fill="#8686f3"/>
<rect x="499.59" y="47.14" width="4.75" height="4.75" fill="#8686f3"/>
<rect x="508.09" y="47.14" width="4.75" height="4.75" fill="#8686f3"/>
<rect x="516.60" y="47.14" width="4.75" height="4.75" fill="#8686f3"/>
<rect x="525.11" y="47.14" width="4.75" height="4.75" fill="#8686f3"/>
<rect x="533.61" y="47.14" width="4.75" height="4.75" fill="#8686f3"/>
<rect x="542.12" y="47.14" width="4.75" height="4.75" fill="#8686f3"/>
<rect x="550.62" y="47.14" width="4.75" height="4.75" fill="#8686f3"/>
<rect x="559.12" y="47.14" width="4.75" height="4.75" fill="#8686f3"/>
<circle cx="442.43" cy="119.02" r="2.50" fill="#8db4f5"/>
<circle cx="450.94" cy="103.19" r="2.50" fill="#8db4f5"/>
<circle cx="459.44" cy="81.96" r="2.50" fill="#8db4f5"/>
<circle cx="467.94" cy="64.61" r="2.50" fill="#8db4f5"/>
<circle cx="476.45" cy="53.73" r="2.50" fill="#8db4f5"/>
<circle cx="484.95" cy="49.51" r="2.50" fill="#8db4f5"/>
<circle cx="493.46" cy="49.51" r="2.50" fill="#8db4f5"/>
<circle cx="501.96" cy="49.51" r="2.50" fill="#8db4f5"/>
<circle cx="510.47" cy="49.51" r="2.50" fill="#8db4f5"/>
<circle cx="518.98" cy="49.51" r="2.50" fill="#8db4f5"/>
<circle cx="527.48" cy="49.51" r="2.50" fill="#8db4f5"/>
<circle cx="535.99" cy="49.51" r="2.50" fill="#8db4f5"/>
<circle cx="544.49" cy="49.51" r="2.50" fill="#8db4f5"/>
<circle cx="553.00" cy="49.51" r="2.50" fill="#8db4f5"/>
<circle cx="561.50" cy="49.51" r="2.50" fill="#8db4f5"/>
<path d="M450.94,118.38L453.13,121.13L450.94,123.88L448.74,121.13Z" fill="#aff1da"/>
<path d="M459.44,104.99L461.64,107.74L459.44,110.49L457.24,107.74Z" fill="#aff1da"/>
<path d="M467.94,87.25L470.14,90.00L467.94,92.75L465.75,90.00Z" fill="#aff1da"/>
<path d="M476.45,69.97L478.65,72.72L476.45,75.47L474.25,72.72Z" fill="#aff1da"/>
<path d="M484.95,56.85L487.15,59.60L484.95,62.35L482.75,59.60Z" fill="#aff1da"/>
<path d="M493.46,49.40L495.66,52.15L493.46,54.90L491.26,52.15Z" fill="#aff1da"/>
<path d="M501.96,46.76L504.16,49.51L501.96,52.26L499.76,49.51Z" fill="#aff1da"/>
<path d="M510.47,46.76L512.67,49.51L510.47,52.26L508.27,49.51Z" fill="#aff1da"/>
<path d="M518.98,46.76L521.18,49.51L518.98,52.26L516.77,49.51Z" fill="#aff1da"/>
<path d="M527.48,46.76L529.68,49.51L527.48,52.26L525.28,49.51Z" fill="#aff1da"/>
<path d="M535.99,46.76L538.19,49.51L535.99,52.26L533.78,49.51Z" fill="#aff1da"/>
<path d="M544.49,46.76L546.69,49.51L544.49,52.26L542.29,49.51Z" fill="#aff1da"/>
<path d="M553.00,46.76L555.20,49.51L553.00,52.26L550.79,49.51Z" fill="#aff1da"/>
<path d="M561.50,46.76L563.70,49.51L561.50,52.26L559.30,49.51Z" fill="#aff1da"/>
<path d="M467.94,124.67L470.57,119.82L465.32,119.82Z" fill="#90ed90"/>
<path d="M476.45,111.29L479.07,106.43L473.82,106.43Z" fill="#90ed90"/>
<path d="M484.95,95.92L487.58,91.07L482.33,91.07Z" fill="#90ed90"/>
<path d="M493.46,81.02L496.08,76.16L490.83,76.16Z" fill="#90ed90"/>
<path d="M501.96,68.56L504.59,63.70L499.34,63.70Z" fill="#90ed90"/>
<path d="M510.47,58.60L513.10,53.74L507.84,53.74Z" fill="#90ed90"/>
<path d="M518.98,53.78L521.60,48.93L516.35,48.93Z" fill="#90ed90"/>
<path d="M527.48,52.27L530.11,47.41L524.86,47.41Z" fill="#90ed90"/>
<path d="M535.99,52.27L538.61,47.41L533.36,47.41Z" fill="#90ed90"/>
<path d="M544.49,52.27L547.12,47.41L541.87,47.41Z" fill="#90ed90"/>
<path d="M553.00,52.27L555.62,47.41L550.37,47.41Z" fill="#90ed90"/>
<path d="M561.50,52.27L564.12,47.41L558.88,47.41Z" fill="#90ed90"/>
<path d="M484.95,120.62L487.25,124.88L482.65,124.88Z" fill="#f7b680"/>
<path d="M493.46,109.02L495.76,113.27L491.16,113.27Z" fill="#f7b680"/>
<path d="M501.96,94.91L504.26,99.16L499.66,99.16Z" fill="#f7b680"/>
<path d="M510.47,81.19L512.77,85.44L508.17,85.44Z" fill="#f7b680"/>
<path d="M518.98,69.52L521.27,73.77L516.68,73.77Z" fill="#f7b680"/>
<path d="M527.48,59.30L529.78,63.55L525.18,63.55Z" fill="#f7b680"/>
<path d="M535.99,50.52L538.28,54.78L533.69,54.78Z" fill="#f7b680"/>
<path d="M544.49,48.08L546.79,52.34L542.19,52.34Z" fill="#f7b680"/>
<path d="M553.00,47.10L555.29,51.35L550.70,51.35Z" fill="#f7b680"/>
<path d="M561.50,47.10L563.80,51.35L559.20,51.35Z" fill="#f7b680"/>
<rect x="499.59" y="121.85" width="4.75" height="4.75" fill="#f6969b"/>
<rect x="508.09" y="111.83" width="4.75" height="4.75" fill="#f6969b"/>
<rect x="516.60" y="100.02" width="4.75" height="4.75" fill="#f6969b"/>
<rect x="525.11" y="88.88" width="4.75" height="4.75" fill="#f6969b"/>
<rect x="533.61" y="78.39" width="4.75" height="4.75" fill="#f6969b"/>
<rect x="542.12" y="69.10" width="4.75" height="4.75" fill="#f6969b"/>
<rect x="550.62" y="59.07" width="4.75" height="4.75" fill="#f6969b"/>
<rect x="559.12" y="50.23" width="4.75" height="4.75" fill="#f6969b"/>
<circle cx="391.40" cy="130.36" r="2.50" fill="#bdb36f"/>
<circle cx="399.90" cy="130.36" r="2.50" fill="#bdb36f"/>
<circle cx="408.41" cy="130.36" r="2.50" fill="#bdb36f"/>
<circle cx="416.91" cy="130.36" r="2.50" fill="#bdb36f"/>
<circle cx="425.42" cy="130.36" r="2.50" fill="#bdb36f"/>
<circle cx="433.92" cy="130.36" r="2.50" fill="#bdb36f"/>
<circle cx="442.43" cy="130.36" r="2.50" fill="#bdb36f"/>
<circle cx="450.94" cy="130.36" r="2.50" fill="#bdb36f"/>
<circle cx="459.44" cy="130.36" r="2.50" fill="#bdb36f"/>
<circle cx="467.94" cy="130.36" r="2.50" fill="#bdb36f"/>
<circle cx="476.45" cy="130.36" r="2.50" fill="#bdb36f"/>
<circle cx="484.95" cy="130.36" r="2.50" fill="#bdb36f"/>
<circle cx="493.46" cy="130.36" r="2.50" fill="#bdb36f"/>
<circle cx="501.96" cy="130.36" r="2.50" fill="#bdb36f"/>
<circle cx="510.47" cy="130.36" r="2.50" fill="#bdb36f"/>
<circle cx="518.98" cy="130.36" r="2.50" fill="#bdb36f"/>
<circle cx="527.48" cy="130.36" r="2.50" fill="#bdb36f"/>
<circle cx="535.99" cy="130.36" r="2.50" fill="#bdb36f"/>
<circle cx="544.49" cy="130.36" r="2.50" fill="#bdb36f"/>
<circle cx="553.00" cy="130.36" r="2.50" fill="#bdb36f"/>
<circle cx="561.50" cy="130.36" r="2.50" fill="#bdb36f"/>
<rect x="388.80" y="127.76" width="5.2" height="5.2" fill="#d0a870"/>
<circle cx="391.40" cy="130.36" r="1.7" fill="#cbb36c"/>
<rect x="397.30" y="127.76" width="5.2" height="5.2" fill="#d0a870"/>
<circle cx="399.90" cy="130.36" r="1.7" fill="#cbb36c"/>
<rect x="405.81" y="127.76" width="5.2" height="5.2" fill="#d0a870"/>
<circle cx="408.41" cy="130.36" r="1.7" fill="#cbb36c"/>
<rect x="414.31" y="127.76" width="5.2" height="5.2" fill="#d0a870"/>
<circle cx="416.91" cy="130.36" r="1.7" fill="#cbb36c"/>
<rect x="422.82" y="127.76" width="5.2" height="5.2" fill="#d0a870"/>
<circle cx="425.42" cy="130.36" r="1.7" fill="#cbb36c"/>
<rect x="431.32" y="127.76" width="5.2" height="5.2" fill="#d0a870"/>
<circle cx="433.92" cy="130.36" r="1.7" fill="#cbb36c"/>
<rect x="439.83" y="127.76" width="5.2" height="5.2" fill="#d0a870"/>
<circle cx="442.43" cy="130.36" r="1.7" fill="#cbb36c"/>
<rect x="448.33" y="127.76" width="5.2" height="5.2" fill="#d0a870"/>
<circle cx="450.94" cy="130.36" r="1.7" fill="#cbb36c"/>
<rect x="456.84" y="127.76" width="5.2" height="5.2" fill="#d0a870"/>
<circle cx="459.44" cy="130.36" r="1.7" fill="#cbb36c"/>
<rect x="465.34" y="127.76" width="5.2" height="5.2" fill="#d0a870"/>
<circle cx="467.94" cy="130.36" r="1.7" fill="#cbb36c"/>
<rect x="473.85" y="127.76" width="5.2" height="5.2" fill="#d0a870"/>
<circle cx="476.45" cy="130.36" r="1.7" fill="#cbb36c"/>
<rect x="482.35" y="127.76" width="5.2" height="5.2" fill="#d0a870"/>
<circle cx="484.95" cy="130.36" r="1.7" fill="#cbb36c"/>
<rect x="490.86" y="127.76" width="5.2" height="5.2" fill="#d0a870"/>
<circle cx="493.46" cy="130.36" r="1.7" fill="#cbb36c"/>
<path d="M593.40,46.20h12" stroke="#bdb893" stroke-width="0.9"/>
<circle cx="599.40" cy="46.20" r="2.50" fill="#bdb36f"/>
<text transform="translate(612.80,49.10) scale(1,1.15)" class="lg" style="font-size:9.70px">Negative control</text>
<path d="M593.40,62.40h12" stroke="#dca1a5" stroke-width="0.9"/>
<rect x="597.02" y="60.02" width="4.75" height="4.75" fill="#f6969b"/>
<text transform="translate(612.80,65.30) scale(1,1.15)" class="lg" style="font-size:9.70px">6 copy/µL</text>
<path d="M593.40,78.90h12" stroke="#ddb594" stroke-width="0.9"/>
<path d="M599.40,76.48L601.70,80.74L597.10,80.74Z" fill="#f7b680"/>
<text transform="translate(612.80,81.80) scale(1,1.15)" class="lg" style="font-size:9.70px">10 copies/µL</text>
<path d="M593.40,95.90h12" stroke="#9ed79e" stroke-width="0.9"/>
<path d="M599.40,98.66L602.02,93.80L596.77,93.80Z" fill="#90ed90"/>
<text transform="translate(612.80,100.20) scale(1,1.15)" class="lg" style="font-size:9.70px">10<tspan class="sup" dy="-3.8" dx="0.15">2</tspan><tspan dy="3.8" dx="0.2">copies/µL</tspan></text>
<path d="M593.40,114.00h12" stroke="#b1d9cb" stroke-width="0.9"/>
<path d="M599.40,111.25L601.60,114.00L599.40,116.75L597.20,114.00Z" fill="#aff1da"/>
<text transform="translate(612.80,118.30) scale(1,1.15)" class="lg" style="font-size:9.70px">10<tspan class="sup" dy="-3.8" dx="0.15">3</tspan><tspan dy="3.8" dx="0.2"> copies/µL</tspan></text>
<path d="M593.40,132.00h12" stroke="#9cb4dc" stroke-width="0.9"/>
<circle cx="599.40" cy="132.00" r="2.50" fill="#8db4f5"/>
<text transform="translate(612.80,136.30) scale(1,1.15)" class="lg" style="font-size:9.70px">10<tspan class="sup" dy="-3.8" dx="0.15">4</tspan><tspan dy="3.8" dx="0.2">copies/µL</tspan></text>
<path d="M593.40,150.10h12" stroke="#9898db" stroke-width="0.9"/>
<rect x="597.02" y="147.72" width="4.75" height="4.75" fill="#8686f3"/>
<text transform="translate(612.80,154.40) scale(1,1.15)" class="lg" style="font-size:9.70px">10<tspan class="sup" dy="-3.8" dx="0.15">5</tspan><tspan dy="3.8" dx="0.2">copies/µL</tspan></text>
<path d="M593.40,167.80h12" stroke="#c79fdb" stroke-width="0.9"/>
<path d="M599.40,165.39L601.70,169.64L597.10,169.64Z" fill="#d492f3"/>
<text transform="translate(612.80,172.10) scale(1,1.15)" class="lg" style="font-size:9.70px">10<tspan class="sup" dy="-3.8" dx="0.15">6</tspan><tspan dy="3.8" dx="0.2">copies/µL</tspan></text>
<text transform="translate(3.30,228.20) scale(1,1.09)" class="let" style="font-size:24.62px">C</text>
<text transform="translate(122.00,240.50) scale(1,1.07)" class="ttl" style="font-size:10.60px" text-anchor="middle">H1N1</text>
<path d="M38.8,253.5V365.0H206" class="axis"/>
<path d="M38.8,365.00h1.3" class="tick"/>
<text transform="translate(37.04,367.83)" class="yt" style="font-size:7.33px" text-anchor="end">0</text>
<path d="M38.8,328.00h1.3" class="tick"/>
<text transform="translate(37.04,330.83)" class="yt" style="font-size:7.33px" text-anchor="end">600</text>
<path d="M38.8,291.00h1.3" class="tick"/>
<text transform="translate(37.04,293.83)" class="yt" style="font-size:7.33px" text-anchor="end">1200</text>
<path d="M38.8,254.00h1.3" class="tick"/>
<text transform="translate(37.04,256.83)" class="yt" style="font-size:7.33px" text-anchor="end">1800</text>
<path d="M42.40,365.0v-1.6" class="tick"/>
<text transform="translate(44.26,372.03) rotate(-45)" class="xt" style="font-size:7.03px" text-anchor="end">0</text>
<path d="M50.39,365.0v-1.6" class="tick"/>
<text transform="translate(52.25,372.03) rotate(-45)" class="xt" style="font-size:7.03px" text-anchor="end">0.5</text>
<path d="M58.38,365.0v-1.6" class="tick"/>
<text transform="translate(60.24,372.03) rotate(-45)" class="xt" style="font-size:7.03px" text-anchor="end">1</text>
<path d="M66.37,365.0v-1.6" class="tick"/>
<text transform="translate(68.23,372.03) rotate(-45)" class="xt" style="font-size:7.03px" text-anchor="end">1.5</text>
<path d="M74.36,365.0v-1.6" class="tick"/>
<text transform="translate(76.22,372.03) rotate(-45)" class="xt" style="font-size:7.03px" text-anchor="end">2</text>
<path d="M82.35,365.0v-1.6" class="tick"/>
<text transform="translate(84.21,372.03) rotate(-45)" class="xt" style="font-size:7.03px" text-anchor="end">2.5</text>
<path d="M90.34,365.0v-1.6" class="tick"/>
<text transform="translate(92.20,372.03) rotate(-45)" class="xt" style="font-size:7.03px" text-anchor="end">3</text>
<path d="M98.33,365.0v-1.6" class="tick"/>
<text transform="translate(100.19,372.03) rotate(-45)" class="xt" style="font-size:7.03px" text-anchor="end">3.5</text>
<path d="M106.32,365.0v-1.6" class="tick"/>
<text transform="translate(108.18,372.03) rotate(-45)" class="xt" style="font-size:7.03px" text-anchor="end">4</text>
<path d="M114.31,365.0v-1.6" class="tick"/>
<text transform="translate(116.17,372.03) rotate(-45)" class="xt" style="font-size:7.03px" text-anchor="end">4.5</text>
<path d="M122.30,365.0v-1.6" class="tick"/>
<text transform="translate(124.16,372.03) rotate(-45)" class="xt" style="font-size:7.03px" text-anchor="end">5</text>
<path d="M130.29,365.0v-1.6" class="tick"/>
<text transform="translate(132.15,372.03) rotate(-45)" class="xt" style="font-size:7.03px" text-anchor="end">5.5</text>
<path d="M138.28,365.0v-1.6" class="tick"/>
<text transform="translate(140.14,372.03) rotate(-45)" class="xt" style="font-size:7.03px" text-anchor="end">6</text>
<path d="M146.27,365.0v-1.6" class="tick"/>
<text transform="translate(148.13,372.03) rotate(-45)" class="xt" style="font-size:7.03px" text-anchor="end">6.5</text>
<path d="M154.26,365.0v-1.6" class="tick"/>
<text transform="translate(156.12,372.03) rotate(-45)" class="xt" style="font-size:7.03px" text-anchor="end">7</text>
<path d="M162.25,365.0v-1.6" class="tick"/>
<text transform="translate(164.11,372.03) rotate(-45)" class="xt" style="font-size:7.03px" text-anchor="end">7.5</text>
<path d="M170.24,365.0v-1.6" class="tick"/>
<text transform="translate(172.10,372.03) rotate(-45)" class="xt" style="font-size:7.03px" text-anchor="end">8</text>
<path d="M178.23,365.0v-1.6" class="tick"/>
<text transform="translate(180.09,372.03) rotate(-45)" class="xt" style="font-size:7.03px" text-anchor="end">8.5</text>
<path d="M186.22,365.0v-1.6" class="tick"/>
<text transform="translate(188.08,372.03) rotate(-45)" class="xt" style="font-size:7.03px" text-anchor="end">9</text>
<path d="M194.21,365.0v-1.6" class="tick"/>
<text transform="translate(196.07,372.03) rotate(-45)" class="xt" style="font-size:7.03px" text-anchor="end">9.5</text>
<path d="M202.20,365.0v-1.6" class="tick"/>
<text transform="translate(204.06,372.03) rotate(-45)" class="xt" style="font-size:7.03px" text-anchor="end">10</text>
<text transform="translate(16.80,309.80) rotate(-90)" class="yl" style="font-size:9.18px" text-anchor="middle">F/A.U</text>
<text transform="translate(122.30,391.90)" class="xl" style="font-size:9.09px" text-anchor="middle">Time/min</text>
<path d="M42.40,340.09L50.39,340.09L58.38,329.48L66.37,311.29L74.36,290.20L82.35,273.73L90.34,266.21L98.33,264.98L106.32,264.61L114.31,264.61L122.30,264.61L130.29,264.61L138.28,264.61L146.27,264.61L154.26,264.61L162.25,264.61L170.24,264.61L178.23,264.61L186.22,264.61L194.21,264.61L202.20,264.61" fill="none" stroke="#c79fdb" stroke-width="0.8"/>
<path d="M42.40,340.09L50.39,340.09L58.38,340.09L66.37,333.12L74.36,316.72L82.35,298.28L90.34,281.81L98.33,269.79L106.32,265.28L114.31,264.61L122.30,264.61L130.29,264.61L138.28,264.61L146.27,264.61L154.26,264.61L162.25,264.61L170.24,264.61L178.23,264.61L186.22,264.61L194.21,264.61L202.20,264.61" fill="none" stroke="#9898db" stroke-width="0.8"/>
<path d="M42.40,340.09L50.39,340.09L58.38,340.09L66.37,340.09L74.36,340.09L82.35,334.11L90.34,320.48L98.33,304.32L106.32,287.12L114.31,273.12L122.30,265.72L130.29,264.61L138.28,264.61L146.27,264.61L154.26,264.61L162.25,264.61L170.24,264.61L178.23,264.61L186.22,264.61L194.21,264.61L202.20,264.61" fill="none" stroke="#9cb4dc" stroke-width="0.8"/>
<path d="M42.40,340.09L50.39,340.09L58.38,340.09L66.37,340.09L74.36,340.09L82.35,340.09L90.34,340.09L98.33,331.08L106.32,318.50L114.31,304.32L122.30,287.61L130.29,273.43L138.28,265.72L146.27,264.61L154.26,264.61L162.25,264.61L170.24,264.61L178.23,264.61L186.22,264.61L194.21,264.61L202.20,264.61" fill="none" stroke="#b1d9cb" stroke-width="0.8"/>
<path d="M42.40,340.09L50.39,340.09L58.38,340.09L66.37,340.09L74.36,340.09L82.35,340.09L90.34,340.09L98.33,340.09L106.32,340.09L114.31,340.09L122.30,333.12L130.29,321.89L138.28,310.12L146.27,295.62L154.26,281.81L162.25,270.28L170.24,265.41L178.23,264.61L186.22,264.61L194.21,264.61L202.20,264.61" fill="none" stroke="#9ed79e" stroke-width="0.8"/>
<path d="M42.40,340.09L50.39,340.09L58.38,340.09L66.37,340.09L74.36,340.09L82.35,340.09L90.34,340.09L98.33,340.09L106.32,340.09L114.31,340.09L122.30,340.09L130.29,340.09L138.28,334.60L146.27,325.72L154.26,315.17L162.25,301.42L170.24,288.41L178.23,277.19L186.22,269.79L194.21,266.52L202.20,266.02" fill="none" stroke="#ddb594" stroke-width="0.8"/>
<path d="M42.40,340.09L50.39,340.09L58.38,340.09L66.37,340.09L74.36,340.09L82.35,340.09L90.34,340.09L98.33,340.09L106.32,340.09L114.31,340.09L122.30,340.09L130.29,340.09L138.28,340.09L146.27,340.09L154.26,336.08L162.25,329.73L170.24,321.09L178.23,311.29L186.22,300.50L194.21,291.43L202.20,283.78" fill="none" stroke="#dca1a5" stroke-width="0.8"/>
<path d="M42.40,340.09L50.39,340.09L58.38,340.46L66.37,340.27L74.36,340.83L82.35,339.72L90.34,339.72L98.33,340.64L106.32,340.83L114.31,339.72L122.30,340.02L130.29,340.46L138.28,339.72L146.27,340.46L154.26,340.33L162.25,339.90L170.24,340.89L178.23,340.33L186.22,340.33L194.21,340.33L202.20,340.83" fill="none" stroke="#bdb893" stroke-width="0.8"/>
<path d="M58.38,327.06L60.68,331.32L56.08,331.32Z" fill="#d492f3"/>
<path d="M66.37,308.87L68.67,313.13L64.07,313.13Z" fill="#d492f3"/>
<path d="M74.36,287.78L76.66,292.04L72.06,292.04Z" fill="#d492f3"/>
<path d="M82.35,271.32L84.65,275.57L80.05,275.57Z" fill="#d492f3"/>
<path d="M90.34,263.79L92.64,268.05L88.04,268.05Z" fill="#d492f3"/>
<path d="M98.33,262.56L100.63,266.82L96.03,266.82Z" fill="#d492f3"/>
<path d="M106.32,262.19L108.62,266.45L104.02,266.45Z" fill="#d492f3"/>
<path d="M114.31,262.19L116.61,266.45L112.01,266.45Z" fill="#d492f3"/>
<path d="M122.30,262.19L124.60,266.45L120.00,266.45Z" fill="#d492f3"/>
<path d="M130.29,262.19L132.59,266.45L127.99,266.45Z" fill="#d492f3"/>
<path d="M138.28,262.19L140.58,266.45L135.98,266.45Z" fill="#d492f3"/>
<path d="M146.27,262.19L148.57,266.45L143.97,266.45Z" fill="#d492f3"/>
<path d="M154.26,262.19L156.56,266.45L151.96,266.45Z" fill="#d492f3"/>
<path d="M162.25,262.19L164.55,266.45L159.95,266.45Z" fill="#d492f3"/>
<path d="M170.24,262.19L172.54,266.45L167.94,266.45Z" fill="#d492f3"/>
<path d="M178.23,262.19L180.53,266.45L175.93,266.45Z" fill="#d492f3"/>
<path d="M186.22,262.19L188.52,266.45L183.92,266.45Z" fill="#d492f3"/>
<path d="M194.21,262.19L196.51,266.45L191.91,266.45Z" fill="#d492f3"/>
<path d="M202.20,262.19L204.50,266.45L199.90,266.45Z" fill="#d492f3"/>
<rect x="64.00" y="330.74" width="4.75" height="4.75" fill="#8686f3"/>
<rect x="71.98" y="314.34" width="4.75" height="4.75" fill="#8686f3"/>
<rect x="79.97" y="295.90" width="4.75" height="4.75" fill="#8686f3"/>
<rect x="87.97" y="279.44" width="4.75" height="4.75" fill="#8686f3"/>
<rect x="95.95" y="267.41" width="4.75" height="4.75" fill="#8686f3"/>
<rect x="103.94" y="262.91" width="4.75" height="4.75" fill="#8686f3"/>
<rect x="111.94" y="262.23" width="4.75" height="4.75" fill="#8686f3"/>
<rect x="119.93" y="262.23" width="4.75" height="4.75" fill="#8686f3"/>
<rect x="127.91" y="262.23" width="4.75" height="4.75" fill="#8686f3"/>
<rect x="135.91" y="262.23" width="4.75" height="4.75" fill="#8686f3"/>
<rect x="143.90" y="262.23" width="4.75" height="4.75" fill="#8686f3"/>
<rect x="151.88" y="262.23" width="4.75" height="4.75" fill="#8686f3"/>
<rect x="159.88" y="262.23" width="4.75" height="4.75" fill="#8686f3"/>
<rect x="167.87" y="262.23" width="4.75" height="4.75" fill="#8686f3"/>
<rect x="175.86" y="262.23" width="4.75" height="4.75" fill="#8686f3"/>
<rect x="183.84" y="262.23" width="4.75" height="4.75" fill="#8686f3"/>
<rect x="191.84" y="262.23" width="4.75" height="4.75" fill="#8686f3"/>
<rect x="199.83" y="262.23" width="4.75" height="4.75" fill="#8686f3"/>
<circle cx="82.35" cy="334.11" r="2.50" fill="#8db4f5"/>
<circle cx="90.34" cy="320.48" r="2.50" fill="#8db4f5"/>
<circle cx="98.33" cy="304.32" r="2.50" fill="#8db4f5"/>
<circle cx="106.32" cy="287.12" r="2.50" fill="#8db4f5"/>
<circle cx="114.31" cy="273.12" r="2.50" fill="#8db4f5"/>
<circle cx="122.30" cy="265.72" r="2.50" fill="#8db4f5"/>
<circle cx="130.29" cy="264.61" r="2.50" fill="#8db4f5"/>
<circle cx="138.28" cy="264.61" r="2.50" fill="#8db4f5"/>
<circle cx="146.27" cy="264.61" r="2.50" fill="#8db4f5"/>
<circle cx="154.26" cy="264.61" r="2.50" fill="#8db4f5"/>
<circle cx="162.25" cy="264.61" r="2.50" fill="#8db4f5"/>
<circle cx="170.24" cy="264.61" r="2.50" fill="#8db4f5"/>
<circle cx="178.23" cy="264.61" r="2.50" fill="#8db4f5"/>
<circle cx="186.22" cy="264.61" r="2.50" fill="#8db4f5"/>
<circle cx="194.21" cy="264.61" r="2.50" fill="#8db4f5"/>
<circle cx="202.20" cy="264.61" r="2.50" fill="#8db4f5"/>
<path d="M98.33,328.33L100.53,331.08L98.33,333.83L96.13,331.08Z" fill="#aff1da"/>
<path d="M106.32,315.75L108.52,318.50L106.32,321.25L104.12,318.50Z" fill="#aff1da"/>
<path d="M114.31,301.57L116.51,304.32L114.31,307.07L112.11,304.32Z" fill="#aff1da"/>
<path d="M122.30,284.86L124.50,287.61L122.30,290.36L120.10,287.61Z" fill="#aff1da"/>
<path d="M130.29,270.68L132.49,273.43L130.29,276.18L128.09,273.43Z" fill="#aff1da"/>
<path d="M138.28,262.97L140.48,265.72L138.28,268.47L136.08,265.72Z" fill="#aff1da"/>
<path d="M146.27,261.86L148.47,264.61L146.27,267.36L144.07,264.61Z" fill="#aff1da"/>
<path d="M154.26,261.86L156.46,264.61L154.26,267.36L152.06,264.61Z" fill="#aff1da"/>
<path d="M162.25,261.86L164.45,264.61L162.25,267.36L160.05,264.61Z" fill="#aff1da"/>
<path d="M170.24,261.86L172.44,264.61L170.24,267.36L168.04,264.61Z" fill="#aff1da"/>
<path d="M178.23,261.86L180.43,264.61L178.23,267.36L176.03,264.61Z" fill="#aff1da"/>
<path d="M186.22,261.86L188.42,264.61L186.22,267.36L184.02,264.61Z" fill="#aff1da"/>
<path d="M194.21,261.86L196.41,264.61L194.21,267.36L192.01,264.61Z" fill="#aff1da"/>
<path d="M202.20,261.86L204.40,264.61L202.20,267.36L200.00,264.61Z" fill="#aff1da"/>
<path d="M122.30,335.87L124.93,331.02L119.68,331.02Z" fill="#90ed90"/>
<path d="M130.29,324.65L132.91,319.79L127.66,319.79Z" fill="#90ed90"/>
<path d="M138.28,312.87L140.91,308.02L135.66,308.02Z" fill="#90ed90"/>
<path d="M146.27,298.38L148.90,293.52L143.65,293.52Z" fill="#90ed90"/>
<path d="M154.26,284.57L156.88,279.71L151.63,279.71Z" fill="#90ed90"/>
<path d="M162.25,273.04L164.88,268.18L159.62,268.18Z" fill="#90ed90"/>
<path d="M170.24,268.16L172.87,263.31L167.62,263.31Z" fill="#90ed90"/>
<path d="M178.23,267.36L180.86,262.51L175.61,262.51Z" fill="#90ed90"/>
<path d="M186.22,267.36L188.84,262.51L183.59,262.51Z" fill="#90ed90"/>
<path d="M194.21,267.36L196.84,262.51L191.59,262.51Z" fill="#90ed90"/>
<path d="M202.20,267.36L204.83,262.51L199.58,262.51Z" fill="#90ed90"/>
<path d="M138.28,332.18L140.58,336.44L135.98,336.44Z" fill="#f7b680"/>
<path d="M146.27,323.30L148.57,327.56L143.97,327.56Z" fill="#f7b680"/>
<path d="M154.26,312.76L156.56,317.01L151.96,317.01Z" fill="#f7b680"/>
<path d="M162.25,299.01L164.55,303.26L159.95,303.26Z" fill="#f7b680"/>
<path d="M170.24,285.99L172.54,290.25L167.94,290.25Z" fill="#f7b680"/>
<path d="M178.23,274.77L180.53,279.03L175.93,279.03Z" fill="#f7b680"/>
<path d="M186.22,267.37L188.52,271.63L183.92,271.63Z" fill="#f7b680"/>
<path d="M194.21,264.10L196.51,268.36L191.91,268.36Z" fill="#f7b680"/>
<path d="M202.20,263.61L204.50,267.86L199.90,267.86Z" fill="#f7b680"/>
<rect x="151.88" y="333.70" width="4.75" height="4.75" fill="#f6969b"/>
<rect x="159.88" y="327.35" width="4.75" height="4.75" fill="#f6969b"/>
<rect x="167.87" y="318.72" width="4.75" height="4.75" fill="#f6969b"/>
<rect x="175.86" y="308.91" width="4.75" height="4.75" fill="#f6969b"/>
<rect x="183.84" y="298.12" width="4.75" height="4.75" fill="#f6969b"/>
<rect x="191.84" y="289.06" width="4.75" height="4.75" fill="#f6969b"/>
<rect x="199.83" y="281.41" width="4.75" height="4.75" fill="#f6969b"/>
<circle cx="42.40" cy="340.09" r="2.50" fill="#bdb36f"/>
<circle cx="50.39" cy="340.09" r="2.50" fill="#bdb36f"/>
<circle cx="58.38" cy="340.46" r="2.50" fill="#bdb36f"/>
<circle cx="66.37" cy="340.27" r="2.50" fill="#bdb36f"/>
<circle cx="74.36" cy="340.83" r="2.50" fill="#bdb36f"/>
<circle cx="82.35" cy="339.72" r="2.50" fill="#bdb36f"/>
<circle cx="90.34" cy="339.72" r="2.50" fill="#bdb36f"/>
<circle cx="98.33" cy="340.64" r="2.50" fill="#bdb36f"/>
<circle cx="106.32" cy="340.83" r="2.50" fill="#bdb36f"/>
<circle cx="114.31" cy="339.72" r="2.50" fill="#bdb36f"/>
<circle cx="122.30" cy="340.02" r="2.50" fill="#bdb36f"/>
<circle cx="130.29" cy="340.46" r="2.50" fill="#bdb36f"/>
<circle cx="138.28" cy="339.72" r="2.50" fill="#bdb36f"/>
<circle cx="146.27" cy="340.46" r="2.50" fill="#bdb36f"/>
<circle cx="154.26" cy="340.33" r="2.50" fill="#bdb36f"/>
<circle cx="162.25" cy="339.90" r="2.50" fill="#bdb36f"/>
<circle cx="170.24" cy="340.89" r="2.50" fill="#bdb36f"/>
<circle cx="178.23" cy="340.33" r="2.50" fill="#bdb36f"/>
<circle cx="186.22" cy="340.33" r="2.50" fill="#bdb36f"/>
<circle cx="194.21" cy="340.33" r="2.50" fill="#bdb36f"/>
<circle cx="202.20" cy="340.83" r="2.50" fill="#bdb36f"/>
<rect x="39.80" y="337.49" width="5.2" height="5.2" fill="#d0a870"/>
<circle cx="42.40" cy="340.09" r="1.7" fill="#cbb36c"/>
<rect x="47.79" y="337.49" width="5.2" height="5.2" fill="#d0a870"/>
<circle cx="50.39" cy="340.09" r="1.7" fill="#cbb36c"/>
<rect x="55.78" y="337.86" width="5.2" height="5.2" fill="#d0a870"/>
<circle cx="58.38" cy="340.46" r="1.7" fill="#cbb36c"/>
<rect x="63.77" y="337.67" width="5.2" height="5.2" fill="#d0a870"/>
<circle cx="66.37" cy="340.27" r="1.7" fill="#cbb36c"/>
<rect x="71.76" y="338.23" width="5.2" height="5.2" fill="#d0a870"/>
<circle cx="74.36" cy="340.83" r="1.7" fill="#cbb36c"/>
<rect x="79.75" y="337.12" width="5.2" height="5.2" fill="#d0a870"/>
<circle cx="82.35" cy="339.72" r="1.7" fill="#cbb36c"/>
<rect x="87.74" y="337.12" width="5.2" height="5.2" fill="#d0a870"/>
<circle cx="90.34" cy="339.72" r="1.7" fill="#cbb36c"/>
<rect x="95.73" y="338.04" width="5.2" height="5.2" fill="#d0a870"/>
<circle cx="98.33" cy="340.64" r="1.7" fill="#cbb36c"/>
<rect x="103.72" y="338.23" width="5.2" height="5.2" fill="#d0a870"/>
<circle cx="106.32" cy="340.83" r="1.7" fill="#cbb36c"/>
<rect x="111.71" y="337.12" width="5.2" height="5.2" fill="#d0a870"/>
<circle cx="114.31" cy="339.72" r="1.7" fill="#cbb36c"/>
<rect x="119.70" y="337.42" width="5.2" height="5.2" fill="#d0a870"/>
<circle cx="122.30" cy="340.02" r="1.7" fill="#cbb36c"/>
<rect x="127.69" y="337.86" width="5.2" height="5.2" fill="#d0a870"/>
<circle cx="130.29" cy="340.46" r="1.7" fill="#cbb36c"/>
<rect x="135.68" y="337.12" width="5.2" height="5.2" fill="#d0a870"/>
<circle cx="138.28" cy="339.72" r="1.7" fill="#cbb36c"/>
<rect x="143.67" y="337.86" width="5.2" height="5.2" fill="#d0a870"/>
<circle cx="146.27" cy="340.46" r="1.7" fill="#cbb36c"/>
<path d="M231.70,260.90h12" stroke="#bdb893" stroke-width="0.9"/>
<circle cx="237.70" cy="260.90" r="2.50" fill="#bdb36f"/>
<text transform="translate(250.30,263.80) scale(1,1.15)" class="lg" style="font-size:9.10px">Negative control</text>
<path d="M231.70,276.00h12" stroke="#dca1a5" stroke-width="0.9"/>
<rect x="235.32" y="273.62" width="4.75" height="4.75" fill="#f6969b"/>
<text transform="translate(250.30,278.90) scale(1,1.15)" class="lg" style="font-size:9.10px">4 copy/µL</text>
<path d="M231.70,291.40h12" stroke="#ddb594" stroke-width="0.9"/>
<path d="M237.70,288.98L240.00,293.24L235.40,293.24Z" fill="#f7b680"/>
<text transform="translate(250.30,294.30) scale(1,1.15)" class="lg" style="font-size:9.10px">10 copies/µL</text>
<path d="M231.70,307.30h12" stroke="#9ed79e" stroke-width="0.9"/>
<path d="M237.70,310.06L240.32,305.20L235.07,305.20Z" fill="#90ed90"/>
<text transform="translate(250.30,311.60) scale(1,1.15)" class="lg" style="font-size:9.10px">10<tspan class="sup" dy="-3.8" dx="0.15">2</tspan><tspan dy="3.8" dx="0.2">copies/µL</tspan></text>
<path d="M231.70,324.30h12" stroke="#b1d9cb" stroke-width="0.9"/>
<path d="M237.70,321.55L239.90,324.30L237.70,327.05L235.50,324.30Z" fill="#aff1da"/>
<text transform="translate(250.30,328.60) scale(1,1.15)" class="lg" style="font-size:9.10px">10<tspan class="sup" dy="-3.8" dx="0.15">3</tspan><tspan dy="3.8" dx="0.2"> copies/µL</tspan></text>
<path d="M231.70,340.90h12" stroke="#9cb4dc" stroke-width="0.9"/>
<circle cx="237.70" cy="340.90" r="2.50" fill="#8db4f5"/>
<text transform="translate(250.30,345.20) scale(1,1.15)" class="lg" style="font-size:9.10px">10<tspan class="sup" dy="-3.8" dx="0.15">4</tspan><tspan dy="3.8" dx="0.2">copies/µL</tspan></text>
<path d="M231.70,357.30h12" stroke="#9898db" stroke-width="0.9"/>
<rect x="235.32" y="354.93" width="4.75" height="4.75" fill="#8686f3"/>
<text transform="translate(250.30,361.60) scale(1,1.15)" class="lg" style="font-size:9.10px">10<tspan class="sup" dy="-3.8" dx="0.15">5</tspan><tspan dy="3.8" dx="0.2">copies/µL</tspan></text>
<path d="M231.70,374.30h12" stroke="#c79fdb" stroke-width="0.9"/>
<path d="M237.70,371.88L240.00,376.14L235.40,376.14Z" fill="#d492f3"/>
<text transform="translate(250.30,378.60) scale(1,1.15)" class="lg" style="font-size:9.10px">10<tspan class="sup" dy="-3.8" dx="0.15">6</tspan><tspan dy="3.8" dx="0.2">copies/µL</tspan></text>
<text transform="translate(377.00,240.00) scale(1,1.09)" class="let" style="font-size:24.28px">D</text>
<text transform="translate(487.50,239.60) scale(1,1.07)" class="ttl" style="font-size:10.65px" text-anchor="middle">H5N1</text>
<path d="M404.1,252.6V365.1H572.5" class="axis"/>
<path d="M404.1,364.60h1.3" class="tick"/>
<text transform="translate(402.33,367.45)" class="yt" style="font-size:7.37px" text-anchor="end">0</text>
<path d="M404.1,327.43h1.3" class="tick"/>
<text transform="translate(402.33,330.28)" class="yt" style="font-size:7.37px" text-anchor="end">600</text>
<path d="M404.1,290.27h1.3" class="tick"/>
<text transform="translate(402.33,293.11)" class="yt" style="font-size:7.37px" text-anchor="end">1200</text>
<path d="M404.1,253.10h1.3" class="tick"/>
<text transform="translate(402.33,255.95)" class="yt" style="font-size:7.37px" text-anchor="end">1800</text>
<path d="M407.80,365.1v-1.6" class="tick"/>
<text transform="translate(409.67,372.17) rotate(-45)" class="xt" style="font-size:7.07px" text-anchor="end">0</text>
<path d="M415.82,365.1v-1.6" class="tick"/>
<text transform="translate(417.69,372.17) rotate(-45)" class="xt" style="font-size:7.07px" text-anchor="end">0.5</text>
<path d="M423.84,365.1v-1.6" class="tick"/>
<text transform="translate(425.71,372.17) rotate(-45)" class="xt" style="font-size:7.07px" text-anchor="end">1</text>
<path d="M431.86,365.1v-1.6" class="tick"/>
<text transform="translate(433.73,372.17) rotate(-45)" class="xt" style="font-size:7.07px" text-anchor="end">1.5</text>
<path d="M439.88,365.1v-1.6" class="tick"/>
<text transform="translate(441.75,372.17) rotate(-45)" class="xt" style="font-size:7.07px" text-anchor="end">2</text>
<path d="M447.90,365.1v-1.6" class="tick"/>
<text transform="translate(449.77,372.17) rotate(-45)" class="xt" style="font-size:7.07px" text-anchor="end">2.5</text>
<path d="M455.92,365.1v-1.6" class="tick"/>
<text transform="translate(457.79,372.17) rotate(-45)" class="xt" style="font-size:7.07px" text-anchor="end">3</text>
<path d="M463.94,365.1v-1.6" class="tick"/>
<text transform="translate(465.81,372.17) rotate(-45)" class="xt" style="font-size:7.07px" text-anchor="end">3.5</text>
<path d="M471.96,365.1v-1.6" class="tick"/>
<text transform="translate(473.83,372.17) rotate(-45)" class="xt" style="font-size:7.07px" text-anchor="end">4</text>
<path d="M479.98,365.1v-1.6" class="tick"/>
<text transform="translate(481.85,372.17) rotate(-45)" class="xt" style="font-size:7.07px" text-anchor="end">4.5</text>
<path d="M488.00,365.1v-1.6" class="tick"/>
<text transform="translate(489.87,372.17) rotate(-45)" class="xt" style="font-size:7.07px" text-anchor="end">5</text>
<path d="M496.02,365.1v-1.6" class="tick"/>
<text transform="translate(497.89,372.17) rotate(-45)" class="xt" style="font-size:7.07px" text-anchor="end">5.5</text>
<path d="M504.04,365.1v-1.6" class="tick"/>
<text transform="translate(505.91,372.17) rotate(-45)" class="xt" style="font-size:7.07px" text-anchor="end">6</text>
<path d="M512.06,365.1v-1.6" class="tick"/>
<text transform="translate(513.93,372.17) rotate(-45)" class="xt" style="font-size:7.07px" text-anchor="end">6.5</text>
<path d="M520.08,365.1v-1.6" class="tick"/>
<text transform="translate(521.95,372.17) rotate(-45)" class="xt" style="font-size:7.07px" text-anchor="end">7</text>
<path d="M528.10,365.1v-1.6" class="tick"/>
<text transform="translate(529.97,372.17) rotate(-45)" class="xt" style="font-size:7.07px" text-anchor="end">7.5</text>
<path d="M536.12,365.1v-1.6" class="tick"/>
<text transform="translate(537.99,372.17) rotate(-45)" class="xt" style="font-size:7.07px" text-anchor="end">8</text>
<path d="M544.14,365.1v-1.6" class="tick"/>
<text transform="translate(546.01,372.17) rotate(-45)" class="xt" style="font-size:7.07px" text-anchor="end">8.5</text>
<path d="M552.16,365.1v-1.6" class="tick"/>
<text transform="translate(554.03,372.17) rotate(-45)" class="xt" style="font-size:7.07px" text-anchor="end">9</text>
<path d="M560.18,365.1v-1.6" class="tick"/>
<text transform="translate(562.05,372.17) rotate(-45)" class="xt" style="font-size:7.07px" text-anchor="end">9.5</text>
<path d="M568.20,365.1v-1.6" class="tick"/>
<text transform="translate(570.07,372.17) rotate(-45)" class="xt" style="font-size:7.07px" text-anchor="end">10</text>
<text transform="translate(381.60,308.90) rotate(-90)" class="yl" style="font-size:9.23px" text-anchor="middle">F/A.U</text>
<text transform="translate(488.20,392.30)" class="xl" style="font-size:9.13px" text-anchor="middle">Time/min</text>
<path d="M407.80,349.61L415.82,349.61L423.84,349.61L431.86,330.96L439.88,304.76L447.90,270.13L455.92,258.61L463.94,255.89L471.96,255.89L479.98,255.89L488.00,255.89L496.02,255.89L504.04,255.89L512.06,255.89L520.08,255.89L528.10,255.89L536.12,255.89L544.14,255.89L552.16,255.89L560.18,255.89L568.20,255.89" fill="none" stroke="#c79fdb" stroke-width="0.8"/>
<path d="M407.80,349.61L415.82,349.61L423.84,349.61L431.86,349.61L439.88,333.07L447.90,311.45L455.92,281.16L463.94,264.00L471.96,256.32L479.98,255.89L488.00,255.89L496.02,255.89L504.04,255.89L512.06,255.89L520.08,255.89L528.10,255.89L536.12,255.89L544.14,255.89L552.16,255.89L560.18,255.89L568.20,255.89" fill="none" stroke="#9898db" stroke-width="0.8"/>
<path d="M407.80,349.61L415.82,349.61L423.84,349.61L431.86,349.61L439.88,349.61L447.90,334.43L455.92,315.35L463.94,292.31L471.96,271.00L479.98,257.68L488.00,255.89L496.02,255.89L504.04,255.89L512.06,255.89L520.08,255.89L528.10,255.89L536.12,255.89L544.14,255.89L552.16,255.89L560.18,255.89L568.20,255.89" fill="none" stroke="#9cb4dc" stroke-width="0.8"/>
<path d="M407.80,349.61L415.82,349.61L423.84,349.61L431.86,349.61L439.88,349.61L447.90,349.61L455.92,334.43L463.94,319.26L471.96,300.36L479.98,280.85L488.00,265.74L496.02,255.89L504.04,255.89L512.06,255.89L520.08,255.89L528.10,255.89L536.12,255.89L544.14,255.89L552.16,255.89L560.18,255.89L568.20,255.89" fill="none" stroke="#b1d9cb" stroke-width="0.8"/>
<path d="M407.80,349.61L415.82,349.61L423.84,349.61L431.86,349.61L439.88,349.61L447.90,349.61L455.92,349.61L463.94,334.43L471.96,321.55L479.98,304.76L488.00,285.62L496.02,270.51L504.04,258.98L512.06,255.89L520.08,255.89L528.10,255.89L536.12,255.89L544.14,255.89L552.16,255.89L560.18,255.89L568.20,255.89" fill="none" stroke="#9ed79e" stroke-width="0.8"/>
<path d="M407.80,349.61L415.82,349.61L423.84,349.61L431.86,349.61L439.88,349.61L447.90,349.61L455.92,349.61L463.94,349.61L471.96,336.17L479.98,323.35L488.00,310.77L496.02,295.04L504.04,279.55L512.06,267.10L520.08,258.61L528.10,255.89L536.12,255.89L544.14,255.89L552.16,255.89L560.18,255.89L568.20,255.89" fill="none" stroke="#ddb594" stroke-width="0.8"/>
<path d="M407.80,349.61L415.82,349.61L423.84,349.61L431.86,349.61L439.88,349.61L447.90,349.61L455.92,349.61L463.94,349.61L471.96,349.61L479.98,349.61L488.00,338.46L496.02,327.87L504.04,316.28L512.06,305.63L520.08,292.62L528.10,280.42L536.12,269.82L544.14,261.28L552.16,256.32L560.18,255.39L568.20,255.89" fill="none" stroke="#dca1a5" stroke-width="0.8"/>
<path d="M407.80,349.61L415.82,349.61L423.84,349.61L431.86,349.61L439.88,349.61L447.90,349.61L455.92,349.61L463.94,349.61L471.96,349.61L479.98,349.61L488.00,349.61L496.02,349.61L504.04,349.61L512.06,349.61L520.08,349.61L528.10,349.61L536.12,349.61L544.14,349.61L552.16,349.61L560.18,349.61L568.20,349.61" fill="none" stroke="#bdb893" stroke-width="0.8"/>
<path d="M431.86,328.55L434.16,332.80L429.56,332.80Z" fill="#d492f3"/>
<path d="M439.88,302.35L442.18,306.60L437.58,306.60Z" fill="#d492f3"/>
<path d="M447.90,267.72L450.20,271.97L445.60,271.97Z" fill="#d492f3"/>
<path d="M455.92,256.20L458.22,260.45L453.62,260.45Z" fill="#d492f3"/>
<path d="M463.94,253.47L466.24,257.73L461.64,257.73Z" fill="#d492f3"/>
<path d="M471.96,253.47L474.26,257.73L469.66,257.73Z" fill="#d492f3"/>
<path d="M479.98,253.47L482.28,257.73L477.68,257.73Z" fill="#d492f3"/>
<path d="M488.00,253.47L490.30,257.73L485.70,257.73Z" fill="#d492f3"/>
<path d="M496.02,253.47L498.32,257.73L493.72,257.73Z" fill="#d492f3"/>
<path d="M504.04,253.47L506.34,257.73L501.74,257.73Z" fill="#d492f3"/>
<path d="M512.06,253.47L514.36,257.73L509.76,257.73Z" fill="#d492f3"/>
<path d="M520.08,253.47L522.38,257.73L517.78,257.73Z" fill="#d492f3"/>
<path d="M528.10,253.47L530.40,257.73L525.80,257.73Z" fill="#d492f3"/>
<path d="M536.12,253.47L538.42,257.73L533.82,257.73Z" fill="#d492f3"/>
<path d="M544.14,253.47L546.44,257.73L541.84,257.73Z" fill="#d492f3"/>
<path d="M552.16,253.47L554.46,257.73L549.86,257.73Z" fill="#d492f3"/>
<path d="M560.18,253.47L562.48,257.73L557.88,257.73Z" fill="#d492f3"/>
<path d="M568.20,253.47L570.50,257.73L565.90,257.73Z" fill="#d492f3"/>
<rect x="437.50" y="330.70" width="4.75" height="4.75" fill="#8686f3"/>
<rect x="445.52" y="309.08" width="4.75" height="4.75" fill="#8686f3"/>
<rect x="453.55" y="278.79" width="4.75" height="4.75" fill="#8686f3"/>
<rect x="461.56" y="261.63" width="4.75" height="4.75" fill="#8686f3"/>
<rect x="469.59" y="253.95" width="4.75" height="4.75" fill="#8686f3"/>
<rect x="477.61" y="253.51" width="4.75" height="4.75" fill="#8686f3"/>
<rect x="485.62" y="253.51" width="4.75" height="4.75" fill="#8686f3"/>
<rect x="493.64" y="253.51" width="4.75" height="4.75" fill="#8686f3"/>
<rect x="501.67" y="253.51" width="4.75" height="4.75" fill="#8686f3"/>
<rect x="509.68" y="253.51" width="4.75" height="4.75" fill="#8686f3"/>
<rect x="517.71" y="253.51" width="4.75" height="4.75" fill="#8686f3"/>
<rect x="525.73" y="253.51" width="4.75" height="4.75" fill="#8686f3"/>
<rect x="533.75" y="253.51" width="4.75" height="4.75" fill="#8686f3"/>
<rect x="541.76" y="253.51" width="4.75" height="4.75" fill="#8686f3"/>
<rect x="549.78" y="253.51" width="4.75" height="4.75" fill="#8686f3"/>
<rect x="557.81" y="253.51" width="4.75" height="4.75" fill="#8686f3"/>
<rect x="565.83" y="253.51" width="4.75" height="4.75" fill="#8686f3"/>
<circle cx="447.90" cy="334.43" r="2.50" fill="#8db4f5"/>
<circle cx="455.92" cy="315.35" r="2.50" fill="#8db4f5"/>
<circle cx="463.94" cy="292.31" r="2.50" fill="#8db4f5"/>
<circle cx="471.96" cy="271.00" r="2.50" fill="#8db4f5"/>
<circle cx="479.98" cy="257.68" r="2.50" fill="#8db4f5"/>
<circle cx="488.00" cy="255.89" r="2.50" fill="#8db4f5"/>
<circle cx="496.02" cy="255.89" r="2.50" fill="#8db4f5"/>
<circle cx="504.04" cy="255.89" r="2.50" fill="#8db4f5"/>
<circle cx="512.06" cy="255.89" r="2.50" fill="#8db4f5"/>
<circle cx="520.08" cy="255.89" r="2.50" fill="#8db4f5"/>
<circle cx="528.10" cy="255.89" r="2.50" fill="#8db4f5"/>
<circle cx="536.12" cy="255.89" r="2.50" fill="#8db4f5"/>
<circle cx="544.14" cy="255.89" r="2.50" fill="#8db4f5"/>
<circle cx="552.16" cy="255.89" r="2.50" fill="#8db4f5"/>
<circle cx="560.18" cy="255.89" r="2.50" fill="#8db4f5"/>
<circle cx="568.20" cy="255.89" r="2.50" fill="#8db4f5"/>
<path d="M455.92,331.68L458.12,334.43L455.92,337.18L453.72,334.43Z" fill="#aff1da"/>
<path d="M463.94,316.51L466.14,319.26L463.94,322.01L461.74,319.26Z" fill="#aff1da"/>
<path d="M471.96,297.61L474.16,300.36L471.96,303.11L469.76,300.36Z" fill="#aff1da"/>
<path d="M479.98,278.10L482.18,280.85L479.98,283.60L477.78,280.85Z" fill="#aff1da"/>
<path d="M488.00,262.99L490.20,265.74L488.00,268.49L485.80,265.74Z" fill="#aff1da"/>
<path d="M496.02,253.14L498.22,255.89L496.02,258.64L493.82,255.89Z" fill="#aff1da"/>
<path d="M504.04,253.14L506.24,255.89L504.04,258.64L501.84,255.89Z" fill="#aff1da"/>
<path d="M512.06,253.14L514.26,255.89L512.06,258.64L509.86,255.89Z" fill="#aff1da"/>
<path d="M520.08,253.14L522.28,255.89L520.08,258.64L517.88,255.89Z" fill="#aff1da"/>
<path d="M528.10,253.14L530.30,255.89L528.10,258.64L525.90,255.89Z" fill="#aff1da"/>
<path d="M536.12,253.14L538.32,255.89L536.12,258.64L533.92,255.89Z" fill="#aff1da"/>
<path d="M544.14,253.14L546.34,255.89L544.14,258.64L541.94,255.89Z" fill="#aff1da"/>
<path d="M552.16,253.14L554.36,255.89L552.16,258.64L549.96,255.89Z" fill="#aff1da"/>
<path d="M560.18,253.14L562.38,255.89L560.18,258.64L557.98,255.89Z" fill="#aff1da"/>
<path d="M568.20,253.14L570.40,255.89L568.20,258.64L566.00,255.89Z" fill="#aff1da"/>
<path d="M463.94,337.19L466.56,332.33L461.31,332.33Z" fill="#90ed90"/>
<path d="M471.96,324.30L474.59,319.45L469.34,319.45Z" fill="#90ed90"/>
<path d="M479.98,307.52L482.61,302.66L477.36,302.66Z" fill="#90ed90"/>
<path d="M488.00,288.38L490.62,283.52L485.38,283.52Z" fill="#90ed90"/>
<path d="M496.02,273.26L498.64,268.41L493.39,268.41Z" fill="#90ed90"/>
<path d="M504.04,261.74L506.67,256.88L501.42,256.88Z" fill="#90ed90"/>
<path d="M512.06,258.64L514.68,253.79L509.43,253.79Z" fill="#90ed90"/>
<path d="M520.08,258.64L522.71,253.79L517.46,253.79Z" fill="#90ed90"/>
<path d="M528.10,258.64L530.73,253.79L525.48,253.79Z" fill="#90ed90"/>
<path d="M536.12,258.64L538.75,253.79L533.50,253.79Z" fill="#90ed90"/>
<path d="M544.14,258.64L546.76,253.79L541.51,253.79Z" fill="#90ed90"/>
<path d="M552.16,258.64L554.78,253.79L549.53,253.79Z" fill="#90ed90"/>
<path d="M560.18,258.64L562.81,253.79L557.56,253.79Z" fill="#90ed90"/>
<path d="M568.20,258.64L570.83,253.79L565.58,253.79Z" fill="#90ed90"/>
<path d="M471.96,333.75L474.26,338.01L469.66,338.01Z" fill="#f7b680"/>
<path d="M479.98,320.93L482.28,325.19L477.68,325.19Z" fill="#f7b680"/>
<path d="M488.00,308.36L490.30,312.61L485.70,312.61Z" fill="#f7b680"/>
<path d="M496.02,292.62L498.32,296.88L493.72,296.88Z" fill="#f7b680"/>
<path d="M504.04,277.14L506.34,281.39L501.74,281.39Z" fill="#f7b680"/>
<path d="M512.06,264.68L514.36,268.94L509.76,268.94Z" fill="#f7b680"/>
<path d="M520.08,256.20L522.38,260.45L517.78,260.45Z" fill="#f7b680"/>
<path d="M528.10,253.47L530.40,257.73L525.80,257.73Z" fill="#f7b680"/>
<path d="M536.12,253.47L538.42,257.73L533.82,257.73Z" fill="#f7b680"/>
<path d="M544.14,253.47L546.44,257.73L541.84,257.73Z" fill="#f7b680"/>
<path d="M552.16,253.47L554.46,257.73L549.86,257.73Z" fill="#f7b680"/>
<path d="M560.18,253.47L562.48,257.73L557.88,257.73Z" fill="#f7b680"/>
<path d="M568.20,253.47L570.50,257.73L565.90,257.73Z" fill="#f7b680"/>
<rect x="485.62" y="336.08" width="4.75" height="4.75" fill="#f6969b"/>
<rect x="493.64" y="325.49" width="4.75" height="4.75" fill="#f6969b"/>
<rect x="501.67" y="313.91" width="4.75" height="4.75" fill="#f6969b"/>
<rect x="509.68" y="303.25" width="4.75" height="4.75" fill="#f6969b"/>
<rect x="517.71" y="290.25" width="4.75" height="4.75" fill="#f6969b"/>
<rect x="525.73" y="278.04" width="4.75" height="4.75" fill="#f6969b"/>
<rect x="533.75" y="267.45" width="4.75" height="4.75" fill="#f6969b"/>
<rect x="541.76" y="258.90" width="4.75" height="4.75" fill="#f6969b"/>
<rect x="549.78" y="253.95" width="4.75" height="4.75" fill="#f6969b"/>
<rect x="557.81" y="253.02" width="4.75" height="4.75" fill="#f6969b"/>
<rect x="565.83" y="253.51" width="4.75" height="4.75" fill="#f6969b"/>
<circle cx="407.80" cy="349.61" r="2.50" fill="#bdb36f"/>
<circle cx="415.82" cy="349.61" r="2.50" fill="#bdb36f"/>
<circle cx="423.84" cy="349.61" r="2.50" fill="#bdb36f"/>
<circle cx="431.86" cy="349.61" r="2.50" fill="#bdb36f"/>
<circle cx="439.88" cy="349.61" r="2.50" fill="#bdb36f"/>
<circle cx="447.90" cy="349.61" r="2.50" fill="#bdb36f"/>
<circle cx="455.92" cy="349.61" r="2.50" fill="#bdb36f"/>
<circle cx="463.94" cy="349.61" r="2.50" fill="#bdb36f"/>
<circle cx="471.96" cy="349.61" r="2.50" fill="#bdb36f"/>
<circle cx="479.98" cy="349.61" r="2.50" fill="#bdb36f"/>
<circle cx="488.00" cy="349.61" r="2.50" fill="#bdb36f"/>
<circle cx="496.02" cy="349.61" r="2.50" fill="#bdb36f"/>
<circle cx="504.04" cy="349.61" r="2.50" fill="#bdb36f"/>
<circle cx="512.06" cy="349.61" r="2.50" fill="#bdb36f"/>
<circle cx="520.08" cy="349.61" r="2.50" fill="#bdb36f"/>
<circle cx="528.10" cy="349.61" r="2.50" fill="#bdb36f"/>
<circle cx="536.12" cy="349.61" r="2.50" fill="#bdb36f"/>
<circle cx="544.14" cy="349.61" r="2.50" fill="#bdb36f"/>
<circle cx="552.16" cy="349.61" r="2.50" fill="#bdb36f"/>
<circle cx="560.18" cy="349.61" r="2.50" fill="#bdb36f"/>
<circle cx="568.20" cy="349.61" r="2.50" fill="#bdb36f"/>
<rect x="405.20" y="347.01" width="5.2" height="5.2" fill="#d0a870"/>
<circle cx="407.80" cy="349.61" r="1.7" fill="#cbb36c"/>
<rect x="413.22" y="347.01" width="5.2" height="5.2" fill="#d0a870"/>
<circle cx="415.82" cy="349.61" r="1.7" fill="#cbb36c"/>
<rect x="421.24" y="347.01" width="5.2" height="5.2" fill="#d0a870"/>
<circle cx="423.84" cy="349.61" r="1.7" fill="#cbb36c"/>
<rect x="429.26" y="347.01" width="5.2" height="5.2" fill="#d0a870"/>
<circle cx="431.86" cy="349.61" r="1.7" fill="#cbb36c"/>
<rect x="437.28" y="347.01" width="5.2" height="5.2" fill="#d0a870"/>
<circle cx="439.88" cy="349.61" r="1.7" fill="#cbb36c"/>
<rect x="445.30" y="347.01" width="5.2" height="5.2" fill="#d0a870"/>
<circle cx="447.90" cy="349.61" r="1.7" fill="#cbb36c"/>
<rect x="453.32" y="347.01" width="5.2" height="5.2" fill="#d0a870"/>
<circle cx="455.92" cy="349.61" r="1.7" fill="#cbb36c"/>
<rect x="461.34" y="347.01" width="5.2" height="5.2" fill="#d0a870"/>
<circle cx="463.94" cy="349.61" r="1.7" fill="#cbb36c"/>
<rect x="469.36" y="347.01" width="5.2" height="5.2" fill="#d0a870"/>
<circle cx="471.96" cy="349.61" r="1.7" fill="#cbb36c"/>
<rect x="477.38" y="347.01" width="5.2" height="5.2" fill="#d0a870"/>
<circle cx="479.98" cy="349.61" r="1.7" fill="#cbb36c"/>
<path d="M597.80,260.90h12" stroke="#bdb893" stroke-width="0.9"/>
<circle cx="603.80" cy="260.90" r="2.50" fill="#bdb36f"/>
<text transform="translate(616.80,263.80) scale(1,1.15)" class="lg" style="font-size:9.10px">Negative control</text>
<path d="M597.80,275.60h12" stroke="#dca1a5" stroke-width="0.9"/>
<rect x="601.42" y="273.23" width="4.75" height="4.75" fill="#f6969b"/>
<text transform="translate(616.80,278.50) scale(1,1.15)" class="lg" style="font-size:9.10px">4 copy/µL</text>
<path d="M597.80,290.90h12" stroke="#ddb594" stroke-width="0.9"/>
<path d="M603.80,288.48L606.10,292.74L601.50,292.74Z" fill="#f7b680"/>
<text transform="translate(616.80,293.80) scale(1,1.15)" class="lg" style="font-size:9.10px">10 copies/µL</text>
<path d="M597.80,306.90h12" stroke="#9ed79e" stroke-width="0.9"/>
<path d="M603.80,309.66L606.42,304.80L601.17,304.80Z" fill="#90ed90"/>
<text transform="translate(616.80,311.20) scale(1,1.15)" class="lg" style="font-size:9.10px">10<tspan class="sup" dy="-3.8" dx="0.15">2</tspan><tspan dy="3.8" dx="0.2">copies/µL</tspan></text>
<path d="M597.80,324.30h12" stroke="#b1d9cb" stroke-width="0.9"/>
<path d="M603.80,321.55L606.00,324.30L603.80,327.05L601.60,324.30Z" fill="#aff1da"/>
<text transform="translate(616.80,328.60) scale(1,1.15)" class="lg" style="font-size:9.10px">10<tspan class="sup" dy="-3.8" dx="0.15">3</tspan><tspan dy="3.8" dx="0.2"> copies/µL</tspan></text>
<path d="M597.80,340.90h12" stroke="#9cb4dc" stroke-width="0.9"/>
<circle cx="603.80" cy="340.90" r="2.50" fill="#8db4f5"/>
<text transform="translate(616.80,345.20) scale(1,1.15)" class="lg" style="font-size:9.10px">10<tspan class="sup" dy="-3.8" dx="0.15">4</tspan><tspan dy="3.8" dx="0.2">copies/µL</tspan></text>
<path d="M597.80,357.30h12" stroke="#9898db" stroke-width="0.9"/>
<rect x="601.42" y="354.93" width="4.75" height="4.75" fill="#8686f3"/>
<text transform="translate(616.80,361.60) scale(1,1.15)" class="lg" style="font-size:9.10px">10<tspan class="sup" dy="-3.8" dx="0.15">5</tspan><tspan dy="3.8" dx="0.2">copies/µL</tspan></text>
<path d="M597.80,374.30h12" stroke="#c79fdb" stroke-width="0.9"/>
<path d="M603.80,371.88L606.10,376.14L601.50,376.14Z" fill="#d492f3"/>
<text transform="translate(616.80,378.60) scale(1,1.15)" class="lg" style="font-size:9.10px">10<tspan class="sup" dy="-3.8" dx="0.15">6</tspan><tspan dy="3.8" dx="0.2">copies/µL</tspan></text>
<text transform="translate(9.00,450.00) scale(1,1.09)" class="let" style="font-size:23.83px">E</text>
<text transform="translate(131.50,447.60) scale(1,1.07)" class="ttl" style="font-size:10.77px" text-anchor="middle">H7N9</text>
<path d="M46.5,461.5V575.1H217.5" class="axis"/>
<path d="M46.5,574.80h1.3" class="tick"/>
<text transform="translate(44.71,577.68)" class="yt" style="font-size:7.45px" text-anchor="end">0</text>
<path d="M46.5,537.20h1.3" class="tick"/>
<text transform="translate(44.71,540.08)" class="yt" style="font-size:7.45px" text-anchor="end">600</text>
<path d="M46.5,499.60h1.3" class="tick"/>
<text transform="translate(44.71,502.48)" class="yt" style="font-size:7.45px" text-anchor="end">1200</text>
<path d="M46.5,462.00h1.3" class="tick"/>
<text transform="translate(44.71,464.88)" class="yt" style="font-size:7.45px" text-anchor="end">1800</text>
<path d="M50.20,575.1v-1.6" class="tick"/>
<text transform="translate(52.09,582.25) rotate(-45)" class="xt" style="font-size:7.15px" text-anchor="end">0</text>
<path d="M58.35,575.1v-1.6" class="tick"/>
<text transform="translate(60.24,582.25) rotate(-45)" class="xt" style="font-size:7.15px" text-anchor="end">0.5</text>
<path d="M66.50,575.1v-1.6" class="tick"/>
<text transform="translate(68.39,582.25) rotate(-45)" class="xt" style="font-size:7.15px" text-anchor="end">1</text>
<path d="M74.65,575.1v-1.6" class="tick"/>
<text transform="translate(76.54,582.25) rotate(-45)" class="xt" style="font-size:7.15px" text-anchor="end">1.5</text>
<path d="M82.80,575.1v-1.6" class="tick"/>
<text transform="translate(84.69,582.25) rotate(-45)" class="xt" style="font-size:7.15px" text-anchor="end">2</text>
<path d="M90.95,575.1v-1.6" class="tick"/>
<text transform="translate(92.84,582.25) rotate(-45)" class="xt" style="font-size:7.15px" text-anchor="end">2.5</text>
<path d="M99.10,575.1v-1.6" class="tick"/>
<text transform="translate(100.99,582.25) rotate(-45)" class="xt" style="font-size:7.15px" text-anchor="end">3</text>
<path d="M107.25,575.1v-1.6" class="tick"/>
<text transform="translate(109.14,582.25) rotate(-45)" class="xt" style="font-size:7.15px" text-anchor="end">3.5</text>
<path d="M115.40,575.1v-1.6" class="tick"/>
<text transform="translate(117.29,582.25) rotate(-45)" class="xt" style="font-size:7.15px" text-anchor="end">4</text>
<path d="M123.55,575.1v-1.6" class="tick"/>
<text transform="translate(125.44,582.25) rotate(-45)" class="xt" style="font-size:7.15px" text-anchor="end">4.5</text>
<path d="M131.70,575.1v-1.6" class="tick"/>
<text transform="translate(133.59,582.25) rotate(-45)" class="xt" style="font-size:7.15px" text-anchor="end">5</text>
<path d="M139.85,575.1v-1.6" class="tick"/>
<text transform="translate(141.74,582.25) rotate(-45)" class="xt" style="font-size:7.15px" text-anchor="end">5.5</text>
<path d="M148.00,575.1v-1.6" class="tick"/>
<text transform="translate(149.89,582.25) rotate(-45)" class="xt" style="font-size:7.15px" text-anchor="end">6</text>
<path d="M156.15,575.1v-1.6" class="tick"/>
<text transform="translate(158.04,582.25) rotate(-45)" class="xt" style="font-size:7.15px" text-anchor="end">6.5</text>
<path d="M164.30,575.1v-1.6" class="tick"/>
<text transform="translate(166.19,582.25) rotate(-45)" class="xt" style="font-size:7.15px" text-anchor="end">7</text>
<path d="M172.45,575.1v-1.6" class="tick"/>
<text transform="translate(174.34,582.25) rotate(-45)" class="xt" style="font-size:7.15px" text-anchor="end">7.5</text>
<path d="M180.60,575.1v-1.6" class="tick"/>
<text transform="translate(182.49,582.25) rotate(-45)" class="xt" style="font-size:7.15px" text-anchor="end">8</text>
<path d="M188.75,575.1v-1.6" class="tick"/>
<text transform="translate(190.64,582.25) rotate(-45)" class="xt" style="font-size:7.15px" text-anchor="end">8.5</text>
<path d="M196.90,575.1v-1.6" class="tick"/>
<text transform="translate(198.79,582.25) rotate(-45)" class="xt" style="font-size:7.15px" text-anchor="end">9</text>
<path d="M205.05,575.1v-1.6" class="tick"/>
<text transform="translate(206.94,582.25) rotate(-45)" class="xt" style="font-size:7.15px" text-anchor="end">9.5</text>
<path d="M213.20,575.1v-1.6" class="tick"/>
<text transform="translate(215.09,582.25) rotate(-45)" class="xt" style="font-size:7.15px" text-anchor="end">10</text>
<text transform="translate(24.80,517.20) rotate(-90)" class="yl" style="font-size:9.33px" text-anchor="middle">F/A.U</text>
<text transform="translate(132.00,602.50)" class="xl" style="font-size:9.23px" text-anchor="middle">Time/min</text>
<path d="M50.20,563.21L58.35,563.21L66.50,563.21L74.65,549.86L82.80,525.11L90.95,496.53L99.10,483.93L107.25,480.49L115.40,480.49L123.55,480.49L131.70,480.49L139.85,480.49L148.00,480.49L156.15,480.49L164.30,480.49L172.45,480.49L180.60,480.49L188.75,480.49L196.90,480.49L205.05,480.49L213.20,480.49" fill="none" stroke="#c79fdb" stroke-width="0.8"/>
<path d="M50.20,563.21L58.35,563.21L66.50,563.21L74.65,563.21L82.80,549.55L90.95,527.36L99.10,502.42L107.25,486.57L115.40,480.80L123.55,480.49L131.70,480.49L139.85,480.49L148.00,480.49L156.15,480.49L164.30,480.49L172.45,480.49L180.60,480.49L188.75,480.49L196.90,480.49L205.05,480.49L213.20,480.49" fill="none" stroke="#9898db" stroke-width="0.8"/>
<path d="M50.20,563.21L58.35,563.21L66.50,563.21L74.65,563.21L82.80,563.21L90.95,549.55L99.10,534.00L107.25,512.13L115.40,494.15L123.55,483.68L131.70,480.49L139.85,480.49L148.00,480.49L156.15,480.49L164.30,480.49L172.45,480.49L180.60,480.49L188.75,480.49L196.90,480.49L205.05,480.49L213.20,480.49" fill="none" stroke="#9cb4dc" stroke-width="0.8"/>
<path d="M50.20,563.21L58.35,563.21L66.50,563.21L74.65,563.21L82.80,563.21L90.95,563.21L99.10,549.55L107.25,536.70L115.40,517.90L123.55,502.61L131.70,489.57L139.85,480.49L148.00,480.49L156.15,480.49L164.30,480.49L172.45,480.49L180.60,480.49L188.75,480.49L196.90,480.49L205.05,480.49L213.20,480.49" fill="none" stroke="#b1d9cb" stroke-width="0.8"/>
<path d="M50.20,563.21L58.35,563.21L66.50,563.21L74.65,563.21L82.80,563.21L90.95,563.21L99.10,563.21L107.25,549.04L115.40,537.45L123.55,521.41L131.70,506.12L139.85,493.77L148.00,484.50L156.15,480.49L164.30,480.49L172.45,480.49L180.60,480.49L188.75,480.49L196.90,480.49L205.05,480.49L213.20,480.49" fill="none" stroke="#9ed79e" stroke-width="0.8"/>
<path d="M50.20,563.21L58.35,563.21L66.50,563.21L74.65,563.21L82.80,563.21L90.95,563.21L99.10,563.21L107.25,563.21L115.40,551.43L123.55,540.65L131.70,526.61L139.85,513.01L148.00,501.04L156.15,490.58L164.30,484.18L172.45,480.49L180.60,480.49L188.75,480.49L196.90,480.49L205.05,480.49L213.20,480.49" fill="none" stroke="#ddb594" stroke-width="0.8"/>
<path d="M50.20,563.21L58.35,563.21L66.50,563.21L74.65,563.21L82.80,563.21L90.95,563.21L99.10,563.21L107.25,563.21L115.40,563.21L123.55,563.21L131.70,552.43L139.85,544.28L148.00,533.19L156.15,522.22L164.30,511.82L172.45,501.67L180.60,492.83L188.75,486.38L196.90,481.55L205.05,479.99L213.20,480.49" fill="none" stroke="#dca1a5" stroke-width="0.8"/>
<path d="M50.20,563.21L58.35,563.21L66.50,563.21L74.65,563.21L82.80,563.21L90.95,563.21L99.10,563.21L107.25,563.21L115.40,563.21L123.55,563.21L131.70,563.21L139.85,563.21L148.00,563.21L156.15,563.21L164.30,563.21L172.45,563.21L180.60,563.21L188.75,563.21L196.90,563.21L205.05,563.21L213.20,563.21" fill="none" stroke="#bdb893" stroke-width="0.8"/>
<path d="M74.65,547.44L76.95,551.70L72.35,551.70Z" fill="#d492f3"/>
<path d="M82.80,522.69L85.10,526.95L80.50,526.95Z" fill="#d492f3"/>
<path d="M90.95,494.11L93.25,498.37L88.65,498.37Z" fill="#d492f3"/>
<path d="M99.10,481.52L101.40,485.77L96.80,485.77Z" fill="#d492f3"/>
<path d="M107.25,478.07L109.55,482.33L104.95,482.33Z" fill="#d492f3"/>
<path d="M115.40,478.07L117.70,482.33L113.10,482.33Z" fill="#d492f3"/>
<path d="M123.55,478.07L125.85,482.33L121.25,482.33Z" fill="#d492f3"/>
<path d="M131.70,478.07L134.00,482.33L129.40,482.33Z" fill="#d492f3"/>
<path d="M139.85,478.07L142.15,482.33L137.55,482.33Z" fill="#d492f3"/>
<path d="M148.00,478.07L150.30,482.33L145.70,482.33Z" fill="#d492f3"/>
<path d="M156.15,478.07L158.45,482.33L153.85,482.33Z" fill="#d492f3"/>
<path d="M164.30,478.07L166.60,482.33L162.00,482.33Z" fill="#d492f3"/>
<path d="M172.45,478.07L174.75,482.33L170.15,482.33Z" fill="#d492f3"/>
<path d="M180.60,478.07L182.90,482.33L178.30,482.33Z" fill="#d492f3"/>
<path d="M188.75,478.07L191.05,482.33L186.45,482.33Z" fill="#d492f3"/>
<path d="M196.90,478.07L199.20,482.33L194.60,482.33Z" fill="#d492f3"/>
<path d="M205.05,478.07L207.35,482.33L202.75,482.33Z" fill="#d492f3"/>
<path d="M213.20,478.07L215.50,482.33L210.90,482.33Z" fill="#d492f3"/>
<rect x="80.43" y="547.17" width="4.75" height="4.75" fill="#8686f3"/>
<rect x="88.58" y="524.99" width="4.75" height="4.75" fill="#8686f3"/>
<rect x="96.73" y="500.04" width="4.75" height="4.75" fill="#8686f3"/>
<rect x="104.88" y="484.19" width="4.75" height="4.75" fill="#8686f3"/>
<rect x="113.03" y="478.42" width="4.75" height="4.75" fill="#8686f3"/>
<rect x="121.18" y="478.11" width="4.75" height="4.75" fill="#8686f3"/>
<rect x="129.32" y="478.11" width="4.75" height="4.75" fill="#8686f3"/>
<rect x="137.48" y="478.11" width="4.75" height="4.75" fill="#8686f3"/>
<rect x="145.62" y="478.11" width="4.75" height="4.75" fill="#8686f3"/>
<rect x="153.78" y="478.11" width="4.75" height="4.75" fill="#8686f3"/>
<rect x="161.93" y="478.11" width="4.75" height="4.75" fill="#8686f3"/>
<rect x="170.07" y="478.11" width="4.75" height="4.75" fill="#8686f3"/>
<rect x="178.23" y="478.11" width="4.75" height="4.75" fill="#8686f3"/>
<rect x="186.38" y="478.11" width="4.75" height="4.75" fill="#8686f3"/>
<rect x="194.53" y="478.11" width="4.75" height="4.75" fill="#8686f3"/>
<rect x="202.68" y="478.11" width="4.75" height="4.75" fill="#8686f3"/>
<rect x="210.82" y="478.11" width="4.75" height="4.75" fill="#8686f3"/>
<circle cx="90.95" cy="549.55" r="2.50" fill="#8db4f5"/>
<circle cx="99.10" cy="534.00" r="2.50" fill="#8db4f5"/>
<circle cx="107.25" cy="512.13" r="2.50" fill="#8db4f5"/>
<circle cx="115.40" cy="494.15" r="2.50" fill="#8db4f5"/>
<circle cx="123.55" cy="483.68" r="2.50" fill="#8db4f5"/>
<circle cx="131.70" cy="480.49" r="2.50" fill="#8db4f5"/>
<circle cx="139.85" cy="480.49" r="2.50" fill="#8db4f5"/>
<circle cx="148.00" cy="480.49" r="2.50" fill="#8db4f5"/>
<circle cx="156.15" cy="480.49" r="2.50" fill="#8db4f5"/>
<circle cx="164.30" cy="480.49" r="2.50" fill="#8db4f5"/>
<circle cx="172.45" cy="480.49" r="2.50" fill="#8db4f5"/>
<circle cx="180.60" cy="480.49" r="2.50" fill="#8db4f5"/>
<circle cx="188.75" cy="480.49" r="2.50" fill="#8db4f5"/>
<circle cx="196.90" cy="480.49" r="2.50" fill="#8db4f5"/>
<circle cx="205.05" cy="480.49" r="2.50" fill="#8db4f5"/>
<circle cx="213.20" cy="480.49" r="2.50" fill="#8db4f5"/>
<path d="M99.10,546.80L101.30,549.55L99.10,552.30L96.90,549.55Z" fill="#aff1da"/>
<path d="M107.25,533.95L109.45,536.70L107.25,539.45L105.05,536.70Z" fill="#aff1da"/>
<path d="M115.40,515.15L117.60,517.90L115.40,520.65L113.20,517.90Z" fill="#aff1da"/>
<path d="M123.55,499.86L125.75,502.61L123.55,505.36L121.35,502.61Z" fill="#aff1da"/>
<path d="M131.70,486.82L133.90,489.57L131.70,492.32L129.50,489.57Z" fill="#aff1da"/>
<path d="M139.85,477.74L142.05,480.49L139.85,483.24L137.65,480.49Z" fill="#aff1da"/>
<path d="M148.00,477.74L150.20,480.49L148.00,483.24L145.80,480.49Z" fill="#aff1da"/>
<path d="M156.15,477.74L158.35,480.49L156.15,483.24L153.95,480.49Z" fill="#aff1da"/>
<path d="M164.30,477.74L166.50,480.49L164.30,483.24L162.10,480.49Z" fill="#aff1da"/>
<path d="M172.45,477.74L174.65,480.49L172.45,483.24L170.25,480.49Z" fill="#aff1da"/>
<path d="M180.60,477.74L182.80,480.49L180.60,483.24L178.40,480.49Z" fill="#aff1da"/>
<path d="M188.75,477.74L190.95,480.49L188.75,483.24L186.55,480.49Z" fill="#aff1da"/>
<path d="M196.90,477.74L199.10,480.49L196.90,483.24L194.70,480.49Z" fill="#aff1da"/>
<path d="M205.05,477.74L207.25,480.49L205.05,483.24L202.85,480.49Z" fill="#aff1da"/>
<path d="M213.20,477.74L215.40,480.49L213.20,483.24L211.00,480.49Z" fill="#aff1da"/>
<path d="M107.25,551.80L109.88,546.94L104.62,546.94Z" fill="#90ed90"/>
<path d="M115.40,540.21L118.03,535.35L112.78,535.35Z" fill="#90ed90"/>
<path d="M123.55,524.16L126.18,519.31L120.93,519.31Z" fill="#90ed90"/>
<path d="M131.70,508.87L134.32,504.02L129.07,504.02Z" fill="#90ed90"/>
<path d="M139.85,496.53L142.48,491.67L137.23,491.67Z" fill="#90ed90"/>
<path d="M148.00,487.25L150.62,482.40L145.38,482.40Z" fill="#90ed90"/>
<path d="M156.15,483.24L158.78,478.39L153.53,478.39Z" fill="#90ed90"/>
<path d="M164.30,483.24L166.93,478.39L161.68,478.39Z" fill="#90ed90"/>
<path d="M172.45,483.24L175.07,478.39L169.82,478.39Z" fill="#90ed90"/>
<path d="M180.60,483.24L183.23,478.39L177.98,478.39Z" fill="#90ed90"/>
<path d="M188.75,483.24L191.38,478.39L186.12,478.39Z" fill="#90ed90"/>
<path d="M196.90,483.24L199.53,478.39L194.28,478.39Z" fill="#90ed90"/>
<path d="M205.05,483.24L207.68,478.39L202.43,478.39Z" fill="#90ed90"/>
<path d="M213.20,483.24L215.82,478.39L210.57,478.39Z" fill="#90ed90"/>
<path d="M115.40,549.01L117.70,553.27L113.10,553.27Z" fill="#f7b680"/>
<path d="M123.55,538.23L125.85,542.49L121.25,542.49Z" fill="#f7b680"/>
<path d="M131.70,524.19L134.00,528.45L129.40,528.45Z" fill="#f7b680"/>
<path d="M139.85,510.60L142.15,514.85L137.55,514.85Z" fill="#f7b680"/>
<path d="M148.00,498.63L150.30,502.88L145.70,502.88Z" fill="#f7b680"/>
<path d="M156.15,488.16L158.45,492.42L153.85,492.42Z" fill="#f7b680"/>
<path d="M164.30,481.77L166.60,486.02L162.00,486.02Z" fill="#f7b680"/>
<path d="M172.45,478.07L174.75,482.33L170.15,482.33Z" fill="#f7b680"/>
<path d="M180.60,478.07L182.90,482.33L178.30,482.33Z" fill="#f7b680"/>
<path d="M188.75,478.07L191.05,482.33L186.45,482.33Z" fill="#f7b680"/>
<path d="M196.90,478.07L199.20,482.33L194.60,482.33Z" fill="#f7b680"/>
<path d="M205.05,478.07L207.35,482.33L202.75,482.33Z" fill="#f7b680"/>
<path d="M213.20,478.07L215.50,482.33L210.90,482.33Z" fill="#f7b680"/>
<rect x="129.32" y="550.05" width="4.75" height="4.75" fill="#f6969b"/>
<rect x="137.48" y="541.91" width="4.75" height="4.75" fill="#f6969b"/>
<rect x="145.62" y="530.81" width="4.75" height="4.75" fill="#f6969b"/>
<rect x="153.78" y="519.85" width="4.75" height="4.75" fill="#f6969b"/>
<rect x="161.93" y="509.44" width="4.75" height="4.75" fill="#f6969b"/>
<rect x="170.07" y="499.29" width="4.75" height="4.75" fill="#f6969b"/>
<rect x="178.23" y="490.46" width="4.75" height="4.75" fill="#f6969b"/>
<rect x="186.38" y="484.00" width="4.75" height="4.75" fill="#f6969b"/>
<rect x="194.53" y="479.18" width="4.75" height="4.75" fill="#f6969b"/>
<rect x="202.68" y="477.61" width="4.75" height="4.75" fill="#f6969b"/>
<rect x="210.82" y="478.11" width="4.75" height="4.75" fill="#f6969b"/>
<circle cx="50.20" cy="563.21" r="2.50" fill="#bdb36f"/>
<circle cx="58.35" cy="563.21" r="2.50" fill="#bdb36f"/>
<circle cx="66.50" cy="563.21" r="2.50" fill="#bdb36f"/>
<circle cx="74.65" cy="563.21" r="2.50" fill="#bdb36f"/>
<circle cx="82.80" cy="563.21" r="2.50" fill="#bdb36f"/>
<circle cx="90.95" cy="563.21" r="2.50" fill="#bdb36f"/>
<circle cx="99.10" cy="563.21" r="2.50" fill="#bdb36f"/>
<circle cx="107.25" cy="563.21" r="2.50" fill="#bdb36f"/>
<circle cx="115.40" cy="563.21" r="2.50" fill="#bdb36f"/>
<circle cx="123.55" cy="563.21" r="2.50" fill="#bdb36f"/>
<circle cx="131.70" cy="563.21" r="2.50" fill="#bdb36f"/>
<circle cx="139.85" cy="563.21" r="2.50" fill="#bdb36f"/>
<circle cx="148.00" cy="563.21" r="2.50" fill="#bdb36f"/>
<circle cx="156.15" cy="563.21" r="2.50" fill="#bdb36f"/>
<circle cx="164.30" cy="563.21" r="2.50" fill="#bdb36f"/>
<circle cx="172.45" cy="563.21" r="2.50" fill="#bdb36f"/>
<circle cx="180.60" cy="563.21" r="2.50" fill="#bdb36f"/>
<circle cx="188.75" cy="563.21" r="2.50" fill="#bdb36f"/>
<circle cx="196.90" cy="563.21" r="2.50" fill="#bdb36f"/>
<circle cx="205.05" cy="563.21" r="2.50" fill="#bdb36f"/>
<circle cx="213.20" cy="563.21" r="2.50" fill="#bdb36f"/>
<rect x="47.60" y="560.61" width="5.2" height="5.2" fill="#d0a870"/>
<circle cx="50.20" cy="563.21" r="1.7" fill="#cbb36c"/>
<rect x="55.75" y="560.61" width="5.2" height="5.2" fill="#d0a870"/>
<circle cx="58.35" cy="563.21" r="1.7" fill="#cbb36c"/>
<rect x="63.90" y="560.61" width="5.2" height="5.2" fill="#d0a870"/>
<circle cx="66.50" cy="563.21" r="1.7" fill="#cbb36c"/>
<rect x="72.05" y="560.61" width="5.2" height="5.2" fill="#d0a870"/>
<circle cx="74.65" cy="563.21" r="1.7" fill="#cbb36c"/>
<rect x="80.20" y="560.61" width="5.2" height="5.2" fill="#d0a870"/>
<circle cx="82.80" cy="563.21" r="1.7" fill="#cbb36c"/>
<rect x="88.35" y="560.61" width="5.2" height="5.2" fill="#d0a870"/>
<circle cx="90.95" cy="563.21" r="1.7" fill="#cbb36c"/>
<rect x="96.50" y="560.61" width="5.2" height="5.2" fill="#d0a870"/>
<circle cx="99.10" cy="563.21" r="1.7" fill="#cbb36c"/>
<rect x="104.65" y="560.61" width="5.2" height="5.2" fill="#d0a870"/>
<circle cx="107.25" cy="563.21" r="1.7" fill="#cbb36c"/>
<rect x="112.80" y="560.61" width="5.2" height="5.2" fill="#d0a870"/>
<circle cx="115.40" cy="563.21" r="1.7" fill="#cbb36c"/>
<rect x="120.95" y="560.61" width="5.2" height="5.2" fill="#d0a870"/>
<circle cx="123.55" cy="563.21" r="1.7" fill="#cbb36c"/>
<path d="M243.10,468.90h12" stroke="#bdb893" stroke-width="0.9"/>
<circle cx="249.10" cy="468.90" r="2.50" fill="#bdb36f"/>
<text transform="translate(262.20,471.80) scale(1,1.15)" class="lg" style="font-size:9.30px">Negative control</text>
<path d="M243.10,484.00h12" stroke="#dca1a5" stroke-width="0.9"/>
<rect x="246.72" y="481.62" width="4.75" height="4.75" fill="#f6969b"/>
<text transform="translate(262.20,486.90) scale(1,1.15)" class="lg" style="font-size:9.30px">4 copy/µL</text>
<path d="M243.10,499.80h12" stroke="#ddb594" stroke-width="0.9"/>
<path d="M249.10,497.38L251.40,501.64L246.80,501.64Z" fill="#f7b680"/>
<text transform="translate(262.20,502.70) scale(1,1.15)" class="lg" style="font-size:9.30px">10 copies/µL</text>
<path d="M243.10,516.00h12" stroke="#9ed79e" stroke-width="0.9"/>
<path d="M249.10,518.76L251.72,513.90L246.47,513.90Z" fill="#90ed90"/>
<text transform="translate(262.20,520.30) scale(1,1.15)" class="lg" style="font-size:9.30px">10<tspan class="sup" dy="-3.8" dx="0.15">2</tspan><tspan dy="3.8" dx="0.2">copies/µL</tspan></text>
<path d="M243.10,533.40h12" stroke="#b1d9cb" stroke-width="0.9"/>
<path d="M249.10,530.65L251.30,533.40L249.10,536.15L246.90,533.40Z" fill="#aff1da"/>
<text transform="translate(262.20,537.70) scale(1,1.15)" class="lg" style="font-size:9.30px">10<tspan class="sup" dy="-3.8" dx="0.15">3</tspan><tspan dy="3.8" dx="0.2"> copies/µL</tspan></text>
<path d="M243.10,550.40h12" stroke="#9cb4dc" stroke-width="0.9"/>
<circle cx="249.10" cy="550.40" r="2.50" fill="#8db4f5"/>
<text transform="translate(262.20,554.70) scale(1,1.15)" class="lg" style="font-size:9.30px">10<tspan class="sup" dy="-3.8" dx="0.15">4</tspan><tspan dy="3.8" dx="0.2">copies/µL</tspan></text>
<path d="M243.10,567.40h12" stroke="#9898db" stroke-width="0.9"/>
<rect x="246.72" y="565.02" width="4.75" height="4.75" fill="#8686f3"/>
<text transform="translate(262.20,571.70) scale(1,1.15)" class="lg" style="font-size:9.30px">10<tspan class="sup" dy="-3.8" dx="0.15">5</tspan><tspan dy="3.8" dx="0.2">copies/µL</tspan></text>
<path d="M243.10,584.50h12" stroke="#c79fdb" stroke-width="0.9"/>
<path d="M249.10,582.09L251.40,586.34L246.80,586.34Z" fill="#d492f3"/>
<text transform="translate(262.20,588.80) scale(1,1.15)" class="lg" style="font-size:9.30px">10<tspan class="sup" dy="-3.8" dx="0.15">6</tspan><tspan dy="3.8" dx="0.2">copies/µL</tspan></text>
<text transform="translate(378.50,450.00) scale(1,1.09)" class="let" style="font-size:24.79px">F</text>
<text transform="translate(483.90,457.80) scale(1,1.07)" class="ttl" style="font-size:11.21px" text-anchor="middle">Flu B</text>
<path d="M395.4,471.1V588.9H572" class="axis"/>
<path d="M395.4,588.90h1.3" class="tick"/>
<text transform="translate(393.54,591.90)" class="yt" style="font-size:7.75px" text-anchor="end">0</text>
<path d="M395.4,549.80h1.3" class="tick"/>
<text transform="translate(393.54,552.80)" class="yt" style="font-size:7.75px" text-anchor="end">600</text>
<path d="M395.4,510.70h1.3" class="tick"/>
<text transform="translate(393.54,513.70)" class="yt" style="font-size:7.75px" text-anchor="end">1200</text>
<path d="M395.4,471.60h1.3" class="tick"/>
<text transform="translate(393.54,474.60)" class="yt" style="font-size:7.75px" text-anchor="end">1800</text>
<path d="M399.50,588.9v-1.6" class="tick"/>
<text transform="translate(401.46,596.34) rotate(-45)" class="xt" style="font-size:7.44px" text-anchor="end">0</text>
<path d="M407.90,588.9v-1.6" class="tick"/>
<text transform="translate(409.86,596.34) rotate(-45)" class="xt" style="font-size:7.44px" text-anchor="end">0.5</text>
<path d="M416.30,588.9v-1.6" class="tick"/>
<text transform="translate(418.26,596.34) rotate(-45)" class="xt" style="font-size:7.44px" text-anchor="end">1</text>
<path d="M424.70,588.9v-1.6" class="tick"/>
<text transform="translate(426.66,596.34) rotate(-45)" class="xt" style="font-size:7.44px" text-anchor="end">1.5</text>
<path d="M433.10,588.9v-1.6" class="tick"/>
<text transform="translate(435.06,596.34) rotate(-45)" class="xt" style="font-size:7.44px" text-anchor="end">2</text>
<path d="M441.50,588.9v-1.6" class="tick"/>
<text transform="translate(443.46,596.34) rotate(-45)" class="xt" style="font-size:7.44px" text-anchor="end">2.5</text>
<path d="M449.90,588.9v-1.6" class="tick"/>
<text transform="translate(451.86,596.34) rotate(-45)" class="xt" style="font-size:7.44px" text-anchor="end">3</text>
<path d="M458.30,588.9v-1.6" class="tick"/>
<text transform="translate(460.26,596.34) rotate(-45)" class="xt" style="font-size:7.44px" text-anchor="end">3.5</text>
<path d="M466.70,588.9v-1.6" class="tick"/>
<text transform="translate(468.66,596.34) rotate(-45)" class="xt" style="font-size:7.44px" text-anchor="end">4</text>
<path d="M475.10,588.9v-1.6" class="tick"/>
<text transform="translate(477.06,596.34) rotate(-45)" class="xt" style="font-size:7.44px" text-anchor="end">4.5</text>
<path d="M483.50,588.9v-1.6" class="tick"/>
<text transform="translate(485.46,596.34) rotate(-45)" class="xt" style="font-size:7.44px" text-anchor="end">5</text>
<path d="M491.90,588.9v-1.6" class="tick"/>
<text transform="translate(493.86,596.34) rotate(-45)" class="xt" style="font-size:7.44px" text-anchor="end">5.5</text>
<path d="M500.30,588.9v-1.6" class="tick"/>
<text transform="translate(502.26,596.34) rotate(-45)" class="xt" style="font-size:7.44px" text-anchor="end">6</text>
<path d="M508.70,588.9v-1.6" class="tick"/>
<text transform="translate(510.66,596.34) rotate(-45)" class="xt" style="font-size:7.44px" text-anchor="end">6.5</text>
<path d="M517.10,588.9v-1.6" class="tick"/>
<text transform="translate(519.06,596.34) rotate(-45)" class="xt" style="font-size:7.44px" text-anchor="end">7</text>
<path d="M525.50,588.9v-1.6" class="tick"/>
<text transform="translate(527.46,596.34) rotate(-45)" class="xt" style="font-size:7.44px" text-anchor="end">7.5</text>
<path d="M533.90,588.9v-1.6" class="tick"/>
<text transform="translate(535.86,596.34) rotate(-45)" class="xt" style="font-size:7.44px" text-anchor="end">8</text>
<path d="M542.30,588.9v-1.6" class="tick"/>
<text transform="translate(544.26,596.34) rotate(-45)" class="xt" style="font-size:7.44px" text-anchor="end">8.5</text>
<path d="M550.70,588.9v-1.6" class="tick"/>
<text transform="translate(552.66,596.34) rotate(-45)" class="xt" style="font-size:7.44px" text-anchor="end">9</text>
<path d="M559.10,588.9v-1.6" class="tick"/>
<text transform="translate(561.06,596.34) rotate(-45)" class="xt" style="font-size:7.44px" text-anchor="end">9.5</text>
<path d="M567.50,588.9v-1.6" class="tick"/>
<text transform="translate(569.46,596.34) rotate(-45)" class="xt" style="font-size:7.44px" text-anchor="end">10</text>
<text transform="translate(372.40,530.50) rotate(-90)" class="yl" style="font-size:9.71px" text-anchor="middle">F/A.U</text>
<text transform="translate(483.50,617.20)" class="xl" style="font-size:9.61px" text-anchor="middle">Time/min</text>
<path d="M399.50,577.10C400.90,576.70 405.10,576.47 407.90,574.69C410.70,572.91 413.50,570.49 416.30,566.42C419.10,562.34 421.90,557.28 424.70,550.26C427.50,543.23 430.30,531.38 433.10,524.25C435.90,517.13 438.70,511.79 441.50,507.51C444.30,503.23 447.10,500.16 449.90,498.58C452.70,496.99 455.50,498.14 458.30,497.99C461.10,497.84 463.90,497.72 466.70,497.67C469.50,497.61 472.30,497.67 475.10,497.67C477.90,497.67 480.70,497.67 483.50,497.67C486.30,497.67 489.10,497.67 491.90,497.67C494.70,497.67 497.50,497.67 500.30,497.67C503.10,497.67 505.90,497.67 508.70,497.67C511.50,497.67 514.30,497.67 517.10,497.67C519.90,497.67 522.70,497.67 525.50,497.67C528.30,497.67 531.10,497.67 533.90,497.67C536.70,497.67 539.50,497.67 542.30,497.67C545.10,497.67 547.90,497.67 550.70,497.67C553.50,497.67 556.30,497.67 559.10,497.67C561.90,497.67 566.10,497.67 567.50,497.67" fill="none" stroke="#c79fdb" stroke-width="0.8"/>
<path d="M399.50,577.10C400.90,577.10 405.10,577.89 407.90,577.10C410.70,576.32 413.50,574.82 416.30,572.41C419.10,570.00 421.90,566.98 424.70,562.64C427.50,558.29 430.30,552.83 433.10,546.35C435.90,539.86 438.70,530.22 441.50,523.73C444.30,517.25 447.10,511.57 449.90,507.44C452.70,503.31 455.50,500.60 458.30,498.97C461.10,497.34 463.90,497.88 466.70,497.67C469.50,497.45 472.30,497.67 475.10,497.67C477.90,497.67 480.70,497.67 483.50,497.67C486.30,497.67 489.10,497.67 491.90,497.67C494.70,497.67 497.50,497.67 500.30,497.67C503.10,497.67 505.90,497.67 508.70,497.67C511.50,497.67 514.30,497.67 517.10,497.67C519.90,497.67 522.70,497.67 525.50,497.67C528.30,497.67 531.10,497.67 533.90,497.67C536.70,497.67 539.50,497.67 542.30,497.67C545.10,497.67 547.90,497.67 550.70,497.67C553.50,497.67 556.30,497.67 559.10,497.67C561.90,497.67 566.10,497.67 567.50,497.67" fill="none" stroke="#9898db" stroke-width="0.8"/>
<path d="M399.50,577.10C400.90,577.10 405.10,577.10 407.90,577.10C410.70,577.10 413.50,577.58 416.30,577.10C419.10,576.63 421.90,575.77 424.70,574.24C427.50,572.71 430.30,571.47 433.10,567.92C435.90,564.36 438.70,558.14 441.50,552.93C444.30,547.71 447.10,542.60 449.90,536.64C452.70,530.67 455.50,522.31 458.30,517.15C461.10,511.99 463.90,508.84 466.70,505.68C469.50,502.52 472.30,499.52 475.10,498.19C477.90,496.85 480.70,497.75 483.50,497.67C486.30,497.58 489.10,497.67 491.90,497.67C494.70,497.67 497.50,497.67 500.30,497.67C503.10,497.67 505.90,497.67 508.70,497.67C511.50,497.67 514.30,497.67 517.10,497.67C519.90,497.67 522.70,497.67 525.50,497.67C528.30,497.67 531.10,497.67 533.90,497.67C536.70,497.67 539.50,497.67 542.30,497.67C545.10,497.67 547.90,497.67 550.70,497.67C553.50,497.67 556.30,497.67 559.10,497.67C561.90,497.67 566.10,497.67 567.50,497.67" fill="none" stroke="#9cb4dc" stroke-width="0.8"/>
<path d="M399.50,577.10C400.90,577.10 405.10,577.10 407.90,577.10C410.70,577.10 413.50,577.10 416.30,577.10C419.10,577.10 421.90,577.66 424.70,577.10C427.50,576.55 430.30,575.31 433.10,573.78C435.90,572.25 438.70,570.27 441.50,567.92C444.30,565.56 447.10,563.17 449.90,559.64C452.70,556.11 455.50,551.67 458.30,546.74C461.10,541.81 463.90,535.57 466.70,530.05C469.50,524.54 472.30,518.00 475.10,513.63C477.90,509.27 480.70,506.43 483.50,503.86C486.30,501.28 489.10,499.22 491.90,498.19C494.70,497.16 497.50,497.75 500.30,497.67C503.10,497.58 505.90,497.67 508.70,497.67C511.50,497.67 514.30,497.67 517.10,497.67C519.90,497.67 522.70,497.67 525.50,497.67C528.30,497.67 531.10,497.67 533.90,497.67C536.70,497.67 539.50,497.67 542.30,497.67C545.10,497.67 547.90,497.67 550.70,497.67C553.50,497.67 556.30,497.67 559.10,497.67C561.90,497.67 566.10,497.67 567.50,497.67" fill="none" stroke="#b1d9cb" stroke-width="0.8"/>
<path d="M399.50,577.10C400.90,577.10 405.10,577.10 407.90,577.10C410.70,577.10 413.50,577.10 416.30,577.10C419.10,577.10 421.90,577.10 424.70,577.10C427.50,577.10 430.30,577.76 433.10,577.10C435.90,576.45 438.70,574.19 441.50,573.19C444.30,572.20 447.10,572.30 449.90,571.11C452.70,569.91 455.50,568.52 458.30,566.03C461.10,563.53 463.90,560.07 466.70,556.12C469.50,552.17 472.30,547.27 475.10,542.31C477.90,537.34 480.70,531.22 483.50,526.34C486.30,521.46 489.10,516.87 491.90,513.05C494.70,509.22 497.50,505.90 500.30,503.40C503.10,500.90 505.90,499.01 508.70,498.06C511.50,497.10 514.30,497.73 517.10,497.67C519.90,497.60 522.70,497.67 525.50,497.67C528.30,497.67 531.10,497.67 533.90,497.67C536.70,497.67 539.50,497.67 542.30,497.67C545.10,497.67 547.90,497.67 550.70,497.67C553.50,497.67 556.30,497.67 559.10,497.67C561.90,497.67 566.10,497.67 567.50,497.67" fill="none" stroke="#9ed79e" stroke-width="0.8"/>
<path d="M399.50,577.10C400.90,577.10 405.10,577.10 407.90,577.10C410.70,577.10 413.50,577.10 416.30,577.10C419.10,577.10 421.90,577.10 424.70,577.10C427.50,577.10 430.30,577.10 433.10,577.10C435.90,577.10 438.70,577.10 441.50,577.10C444.30,577.10 447.10,577.10 449.90,577.10C452.70,577.10 455.50,577.10 458.30,577.10C461.10,577.10 463.90,577.98 466.70,577.10C469.50,576.23 472.30,573.60 475.10,571.83C477.90,570.06 480.70,569.55 483.50,566.48C486.30,563.42 489.10,557.74 491.90,553.45C494.70,549.16 497.50,545.08 500.30,540.74C503.10,536.41 505.90,531.82 508.70,527.45C511.50,523.07 514.30,518.03 517.10,514.48C519.90,510.93 522.70,508.34 525.50,506.14C528.30,503.93 531.10,502.51 533.90,501.25C536.70,499.99 539.50,499.18 542.30,498.58C545.10,497.98 547.90,497.82 550.70,497.67C553.50,497.51 556.30,497.67 559.10,497.67C561.90,497.67 566.10,497.67 567.50,497.67" fill="none" stroke="#ddb594" stroke-width="0.8"/>
<path d="M399.50,577.10C400.90,577.10 405.10,577.10 407.90,577.10C410.70,577.10 413.50,577.10 416.30,577.10C419.10,577.10 421.90,577.10 424.70,577.10C427.50,577.10 430.30,577.10 433.10,577.10C435.90,577.10 438.70,577.10 441.50,577.10C444.30,577.10 447.10,577.10 449.90,577.10C452.70,577.10 455.50,577.10 458.30,577.10C461.10,577.10 463.90,577.10 466.70,577.10C469.50,577.10 472.30,577.35 475.10,577.10C477.90,576.86 480.70,576.41 483.50,575.61C486.30,574.80 489.10,573.35 491.90,572.28C494.70,571.22 497.50,571.26 500.30,569.22C503.10,567.18 505.90,563.31 508.70,560.03C511.50,556.75 514.30,553.44 517.10,549.54C519.90,545.64 522.70,540.94 525.50,536.64C528.30,532.34 531.10,527.51 533.90,523.73C536.70,519.95 539.50,516.67 542.30,513.96C545.10,511.24 547.90,509.13 550.70,507.44C553.50,505.76 556.30,504.45 559.10,503.86C561.90,503.26 566.10,503.86 567.50,503.86" fill="none" stroke="#dca1a5" stroke-width="0.8"/>
<path d="M399.50,577.10C400.90,577.10 405.10,577.10 407.90,577.10C410.70,577.10 413.50,577.10 416.30,577.10C419.10,577.10 421.90,577.10 424.70,577.10C427.50,577.10 430.30,577.10 433.10,577.10C435.90,577.10 438.70,577.10 441.50,577.10C444.30,577.10 447.10,577.10 449.90,577.10C452.70,577.10 455.50,577.10 458.30,577.10C461.10,577.10 463.90,577.10 466.70,577.10C469.50,577.10 472.30,577.10 475.10,577.10C477.90,577.10 480.70,577.10 483.50,577.10C486.30,577.10 489.10,577.10 491.90,577.10C494.70,577.10 497.50,577.10 500.30,577.10C503.10,577.10 505.90,577.10 508.70,577.10C511.50,577.10 514.30,577.10 517.10,577.10C519.90,577.10 522.70,577.10 525.50,577.10C528.30,577.10 531.10,577.10 533.90,577.10C536.70,577.10 539.50,577.10 542.30,577.10C545.10,577.10 547.90,577.10 550.70,577.10C553.50,577.10 556.30,577.10 559.10,577.10C561.90,577.10 566.10,577.10 567.50,577.10" fill="none" stroke="#bdb893" stroke-width="0.8"/>
<path d="M407.90,572.28L410.20,576.53L405.60,576.53Z" fill="#d492f3"/>
<path d="M416.30,564.00L418.60,568.26L414.00,568.26Z" fill="#d492f3"/>
<path d="M424.70,547.84L427.00,552.10L422.40,552.10Z" fill="#d492f3"/>
<path d="M433.10,521.84L435.40,526.09L430.80,526.09Z" fill="#d492f3"/>
<path d="M441.50,505.09L443.80,509.35L439.20,509.35Z" fill="#d492f3"/>
<path d="M449.90,496.16L452.20,500.42L447.60,500.42Z" fill="#d492f3"/>
<path d="M458.30,495.58L460.60,499.83L456.00,499.83Z" fill="#d492f3"/>
<path d="M466.70,495.25L469.00,499.51L464.40,499.51Z" fill="#d492f3"/>
<path d="M475.10,495.25L477.40,499.51L472.80,499.51Z" fill="#d492f3"/>
<path d="M483.50,495.25L485.80,499.51L481.20,499.51Z" fill="#d492f3"/>
<path d="M491.90,495.25L494.20,499.51L489.60,499.51Z" fill="#d492f3"/>
<path d="M500.30,495.25L502.60,499.51L498.00,499.51Z" fill="#d492f3"/>
<path d="M508.70,495.25L511.00,499.51L506.40,499.51Z" fill="#d492f3"/>
<path d="M517.10,495.25L519.40,499.51L514.80,499.51Z" fill="#d492f3"/>
<path d="M525.50,495.25L527.80,499.51L523.20,499.51Z" fill="#d492f3"/>
<path d="M533.90,495.25L536.20,499.51L531.60,499.51Z" fill="#d492f3"/>
<path d="M542.30,495.25L544.60,499.51L540.00,499.51Z" fill="#d492f3"/>
<path d="M550.70,495.25L553.00,499.51L548.40,499.51Z" fill="#d492f3"/>
<path d="M559.10,495.25L561.40,499.51L556.80,499.51Z" fill="#d492f3"/>
<path d="M567.50,495.25L569.80,499.51L565.20,499.51Z" fill="#d492f3"/>
<rect x="413.93" y="570.04" width="4.75" height="4.75" fill="#8686f3"/>
<rect x="422.32" y="560.26" width="4.75" height="4.75" fill="#8686f3"/>
<rect x="430.73" y="543.97" width="4.75" height="4.75" fill="#8686f3"/>
<rect x="439.12" y="521.36" width="4.75" height="4.75" fill="#8686f3"/>
<rect x="447.52" y="505.07" width="4.75" height="4.75" fill="#8686f3"/>
<rect x="455.93" y="496.60" width="4.75" height="4.75" fill="#8686f3"/>
<rect x="464.32" y="495.29" width="4.75" height="4.75" fill="#8686f3"/>
<rect x="472.73" y="495.29" width="4.75" height="4.75" fill="#8686f3"/>
<rect x="481.12" y="495.29" width="4.75" height="4.75" fill="#8686f3"/>
<rect x="489.52" y="495.29" width="4.75" height="4.75" fill="#8686f3"/>
<rect x="497.93" y="495.29" width="4.75" height="4.75" fill="#8686f3"/>
<rect x="506.32" y="495.29" width="4.75" height="4.75" fill="#8686f3"/>
<rect x="514.73" y="495.29" width="4.75" height="4.75" fill="#8686f3"/>
<rect x="523.12" y="495.29" width="4.75" height="4.75" fill="#8686f3"/>
<rect x="531.52" y="495.29" width="4.75" height="4.75" fill="#8686f3"/>
<rect x="539.92" y="495.29" width="4.75" height="4.75" fill="#8686f3"/>
<rect x="548.33" y="495.29" width="4.75" height="4.75" fill="#8686f3"/>
<rect x="556.73" y="495.29" width="4.75" height="4.75" fill="#8686f3"/>
<rect x="565.12" y="495.29" width="4.75" height="4.75" fill="#8686f3"/>
<circle cx="424.70" cy="574.24" r="2.50" fill="#8db4f5"/>
<circle cx="433.10" cy="567.92" r="2.50" fill="#8db4f5"/>
<circle cx="441.50" cy="552.93" r="2.50" fill="#8db4f5"/>
<circle cx="449.90" cy="536.64" r="2.50" fill="#8db4f5"/>
<circle cx="458.30" cy="517.15" r="2.50" fill="#8db4f5"/>
<circle cx="466.70" cy="505.68" r="2.50" fill="#8db4f5"/>
<circle cx="475.10" cy="498.19" r="2.50" fill="#8db4f5"/>
<circle cx="483.50" cy="497.67" r="2.50" fill="#8db4f5"/>
<circle cx="491.90" cy="497.67" r="2.50" fill="#8db4f5"/>
<circle cx="500.30" cy="497.67" r="2.50" fill="#8db4f5"/>
<circle cx="508.70" cy="497.67" r="2.50" fill="#8db4f5"/>
<circle cx="517.10" cy="497.67" r="2.50" fill="#8db4f5"/>
<circle cx="525.50" cy="497.67" r="2.50" fill="#8db4f5"/>
<circle cx="533.90" cy="497.67" r="2.50" fill="#8db4f5"/>
<circle cx="542.30" cy="497.67" r="2.50" fill="#8db4f5"/>
<circle cx="550.70" cy="497.67" r="2.50" fill="#8db4f5"/>
<circle cx="559.10" cy="497.67" r="2.50" fill="#8db4f5"/>
<circle cx="567.50" cy="497.67" r="2.50" fill="#8db4f5"/>
<path d="M433.10,571.03L435.30,573.78L433.10,576.53L430.90,573.78Z" fill="#aff1da"/>
<path d="M441.50,565.17L443.70,567.92L441.50,570.67L439.30,567.92Z" fill="#aff1da"/>
<path d="M449.90,556.89L452.10,559.64L449.90,562.39L447.70,559.64Z" fill="#aff1da"/>
<path d="M458.30,543.99L460.50,546.74L458.30,549.49L456.10,546.74Z" fill="#aff1da"/>
<path d="M466.70,527.30L468.90,530.05L466.70,532.80L464.50,530.05Z" fill="#aff1da"/>
<path d="M475.10,510.88L477.30,513.63L475.10,516.38L472.90,513.63Z" fill="#aff1da"/>
<path d="M483.50,501.11L485.70,503.86L483.50,506.61L481.30,503.86Z" fill="#aff1da"/>
<path d="M491.90,495.44L494.10,498.19L491.90,500.94L489.70,498.19Z" fill="#aff1da"/>
<path d="M500.30,494.92L502.50,497.67L500.30,500.42L498.10,497.67Z" fill="#aff1da"/>
<path d="M508.70,494.92L510.90,497.67L508.70,500.42L506.50,497.67Z" fill="#aff1da"/>
<path d="M517.10,494.92L519.30,497.67L517.10,500.42L514.90,497.67Z" fill="#aff1da"/>
<path d="M525.50,494.92L527.70,497.67L525.50,500.42L523.30,497.67Z" fill="#aff1da"/>
<path d="M533.90,494.92L536.10,497.67L533.90,500.42L531.70,497.67Z" fill="#aff1da"/>
<path d="M542.30,494.92L544.50,497.67L542.30,500.42L540.10,497.67Z" fill="#aff1da"/>
<path d="M550.70,494.92L552.90,497.67L550.70,500.42L548.50,497.67Z" fill="#aff1da"/>
<path d="M559.10,494.92L561.30,497.67L559.10,500.42L556.90,497.67Z" fill="#aff1da"/>
<path d="M567.50,494.92L569.70,497.67L567.50,500.42L565.30,497.67Z" fill="#aff1da"/>
<path d="M441.50,575.95L444.12,571.09L438.88,571.09Z" fill="#90ed90"/>
<path d="M449.90,573.87L452.52,569.01L447.27,569.01Z" fill="#90ed90"/>
<path d="M458.30,568.78L460.93,563.93L455.68,563.93Z" fill="#90ed90"/>
<path d="M466.70,558.88L469.32,554.02L464.07,554.02Z" fill="#90ed90"/>
<path d="M475.10,545.06L477.73,540.21L472.48,540.21Z" fill="#90ed90"/>
<path d="M483.50,529.10L486.12,524.24L480.88,524.24Z" fill="#90ed90"/>
<path d="M491.90,515.80L494.52,510.95L489.27,510.95Z" fill="#90ed90"/>
<path d="M500.30,506.16L502.93,501.30L497.68,501.30Z" fill="#90ed90"/>
<path d="M508.70,500.81L511.32,495.96L506.07,495.96Z" fill="#90ed90"/>
<path d="M517.10,500.42L519.73,495.57L514.48,495.57Z" fill="#90ed90"/>
<path d="M525.50,500.42L528.12,495.57L522.88,495.57Z" fill="#90ed90"/>
<path d="M533.90,500.42L536.52,495.57L531.27,495.57Z" fill="#90ed90"/>
<path d="M542.30,500.42L544.92,495.57L539.67,495.57Z" fill="#90ed90"/>
<path d="M550.70,500.42L553.33,495.57L548.08,495.57Z" fill="#90ed90"/>
<path d="M559.10,500.42L561.73,495.57L556.48,495.57Z" fill="#90ed90"/>
<path d="M567.50,500.42L570.12,495.57L564.88,495.57Z" fill="#90ed90"/>
<path d="M475.10,569.41L477.40,573.67L472.80,573.67Z" fill="#f7b680"/>
<path d="M483.50,564.07L485.80,568.32L481.20,568.32Z" fill="#f7b680"/>
<path d="M491.90,551.03L494.20,555.29L489.60,555.29Z" fill="#f7b680"/>
<path d="M500.30,538.33L502.60,542.58L498.00,542.58Z" fill="#f7b680"/>
<path d="M508.70,525.03L511.00,529.29L506.40,529.29Z" fill="#f7b680"/>
<path d="M517.10,512.06L519.40,516.32L514.80,516.32Z" fill="#f7b680"/>
<path d="M525.50,503.72L527.80,507.98L523.20,507.98Z" fill="#f7b680"/>
<path d="M533.90,498.84L536.20,503.09L531.60,503.09Z" fill="#f7b680"/>
<path d="M542.30,496.16L544.60,500.42L540.00,500.42Z" fill="#f7b680"/>
<path d="M550.70,495.25L553.00,499.51L548.40,499.51Z" fill="#f7b680"/>
<path d="M559.10,495.25L561.40,499.51L556.80,499.51Z" fill="#f7b680"/>
<path d="M567.50,495.25L569.80,499.51L565.20,499.51Z" fill="#f7b680"/>
<rect x="481.12" y="573.23" width="4.75" height="4.75" fill="#f6969b"/>
<rect x="489.52" y="569.91" width="4.75" height="4.75" fill="#f6969b"/>
<rect x="497.93" y="566.84" width="4.75" height="4.75" fill="#f6969b"/>
<rect x="506.32" y="557.66" width="4.75" height="4.75" fill="#f6969b"/>
<rect x="514.73" y="547.16" width="4.75" height="4.75" fill="#f6969b"/>
<rect x="523.12" y="534.26" width="4.75" height="4.75" fill="#f6969b"/>
<rect x="531.52" y="521.36" width="4.75" height="4.75" fill="#f6969b"/>
<rect x="539.92" y="511.58" width="4.75" height="4.75" fill="#f6969b"/>
<rect x="548.33" y="505.07" width="4.75" height="4.75" fill="#f6969b"/>
<rect x="556.73" y="501.48" width="4.75" height="4.75" fill="#f6969b"/>
<rect x="565.12" y="501.48" width="4.75" height="4.75" fill="#f6969b"/>
<circle cx="399.50" cy="577.10" r="2.50" fill="#bdb36f"/>
<circle cx="407.90" cy="577.10" r="2.50" fill="#bdb36f"/>
<circle cx="416.30" cy="577.10" r="2.50" fill="#bdb36f"/>
<circle cx="424.70" cy="577.10" r="2.50" fill="#bdb36f"/>
<circle cx="433.10" cy="577.10" r="2.50" fill="#bdb36f"/>
<circle cx="441.50" cy="577.10" r="2.50" fill="#bdb36f"/>
<circle cx="449.90" cy="577.10" r="2.50" fill="#bdb36f"/>
<circle cx="458.30" cy="577.10" r="2.50" fill="#bdb36f"/>
<circle cx="466.70" cy="577.10" r="2.50" fill="#bdb36f"/>
<circle cx="475.10" cy="577.10" r="2.50" fill="#bdb36f"/>
<circle cx="483.50" cy="577.10" r="2.50" fill="#bdb36f"/>
<circle cx="491.90" cy="577.10" r="2.50" fill="#bdb36f"/>
<circle cx="500.30" cy="577.10" r="2.50" fill="#bdb36f"/>
<circle cx="508.70" cy="577.10" r="2.50" fill="#bdb36f"/>
<circle cx="517.10" cy="577.10" r="2.50" fill="#bdb36f"/>
<circle cx="525.50" cy="577.10" r="2.50" fill="#bdb36f"/>
<circle cx="533.90" cy="577.10" r="2.50" fill="#bdb36f"/>
<circle cx="542.30" cy="577.10" r="2.50" fill="#bdb36f"/>
<circle cx="550.70" cy="577.10" r="2.50" fill="#bdb36f"/>
<circle cx="559.10" cy="577.10" r="2.50" fill="#bdb36f"/>
<circle cx="567.50" cy="577.10" r="2.50" fill="#bdb36f"/>
<rect x="396.90" y="574.50" width="5.2" height="5.2" fill="#d0a870"/>
<circle cx="399.50" cy="577.10" r="1.7" fill="#cbb36c"/>
<rect x="405.30" y="574.50" width="5.2" height="5.2" fill="#d0a870"/>
<circle cx="407.90" cy="577.10" r="1.7" fill="#cbb36c"/>
<rect x="413.70" y="574.50" width="5.2" height="5.2" fill="#d0a870"/>
<circle cx="416.30" cy="577.10" r="1.7" fill="#cbb36c"/>
<rect x="422.10" y="574.50" width="5.2" height="5.2" fill="#d0a870"/>
<circle cx="424.70" cy="577.10" r="1.7" fill="#cbb36c"/>
<rect x="430.50" y="574.50" width="5.2" height="5.2" fill="#d0a870"/>
<circle cx="433.10" cy="577.10" r="1.7" fill="#cbb36c"/>
<rect x="438.90" y="574.50" width="5.2" height="5.2" fill="#d0a870"/>
<circle cx="441.50" cy="577.10" r="1.7" fill="#cbb36c"/>
<rect x="447.30" y="574.50" width="5.2" height="5.2" fill="#d0a870"/>
<circle cx="449.90" cy="577.10" r="1.7" fill="#cbb36c"/>
<rect x="455.70" y="574.50" width="5.2" height="5.2" fill="#d0a870"/>
<circle cx="458.30" cy="577.10" r="1.7" fill="#cbb36c"/>
<rect x="464.10" y="574.50" width="5.2" height="5.2" fill="#d0a870"/>
<circle cx="466.70" cy="577.10" r="1.7" fill="#cbb36c"/>
<rect x="472.50" y="574.50" width="5.2" height="5.2" fill="#d0a870"/>
<circle cx="475.10" cy="577.10" r="1.7" fill="#cbb36c"/>
<path d="M598.80,479.50h12" stroke="#bdb893" stroke-width="0.9"/>
<circle cx="604.80" cy="479.50" r="2.50" fill="#bdb36f"/>
<text transform="translate(618.40,482.40) scale(1,1.15)" class="lg" style="font-size:9.60px">Negative control</text>
<path d="M598.80,495.50h12" stroke="#dca1a5" stroke-width="0.9"/>
<rect x="602.42" y="493.12" width="4.75" height="4.75" fill="#f6969b"/>
<text transform="translate(618.40,498.40) scale(1,1.15)" class="lg" style="font-size:9.60px">2 copy/µL</text>
<path d="M598.80,511.80h12" stroke="#ddb594" stroke-width="0.9"/>
<path d="M604.80,509.38L607.10,513.64L602.50,513.64Z" fill="#f7b680"/>
<text transform="translate(618.40,514.70) scale(1,1.15)" class="lg" style="font-size:9.60px">10 copies/µL</text>
<path d="M598.80,528.80h12" stroke="#9ed79e" stroke-width="0.9"/>
<path d="M604.80,531.56L607.42,526.70L602.17,526.70Z" fill="#90ed90"/>
<text transform="translate(618.40,533.10) scale(1,1.15)" class="lg" style="font-size:9.60px">10<tspan class="sup" dy="-3.8" dx="0.15">2</tspan><tspan dy="3.8" dx="0.2"> copies/µL</tspan></text>
<path d="M598.80,546.40h12" stroke="#b1d9cb" stroke-width="0.9"/>
<path d="M604.80,543.65L607.00,546.40L604.80,549.15L602.60,546.40Z" fill="#aff1da"/>
<text transform="translate(618.40,550.70) scale(1,1.15)" class="lg" style="font-size:9.60px">10<tspan class="sup" dy="-3.8" dx="0.15">3</tspan><tspan dy="3.8" dx="0.2"> copies/µL</tspan></text>
<path d="M598.80,563.30h12" stroke="#9cb4dc" stroke-width="0.9"/>
<circle cx="604.80" cy="563.30" r="2.50" fill="#8db4f5"/>
<text transform="translate(618.40,567.60) scale(1,1.15)" class="lg" style="font-size:9.60px">10<tspan class="sup" dy="-3.8" dx="0.15">4</tspan><tspan dy="3.8" dx="0.2"> copies/µL</tspan></text>
<path d="M598.80,581.40h12" stroke="#9898db" stroke-width="0.9"/>
<rect x="602.42" y="579.02" width="4.75" height="4.75" fill="#8686f3"/>
<text transform="translate(618.40,585.70) scale(1,1.15)" class="lg" style="font-size:9.60px">10<tspan class="sup" dy="-3.8" dx="0.15">5</tspan><tspan dy="3.8" dx="0.2"> copies/µL</tspan></text>
<path d="M598.80,599.50h12" stroke="#c79fdb" stroke-width="0.9"/>
<path d="M604.80,597.09L607.10,601.34L602.50,601.34Z" fill="#d492f3"/>
<text transform="translate(618.40,603.80) scale(1,1.15)" class="lg" style="font-size:9.60px">10<tspan class="sup" dy="-3.8" dx="0.15">6</tspan><tspan dy="3.8" dx="0.2"> copies/µL</tspan></text>
</svg></body></html>
